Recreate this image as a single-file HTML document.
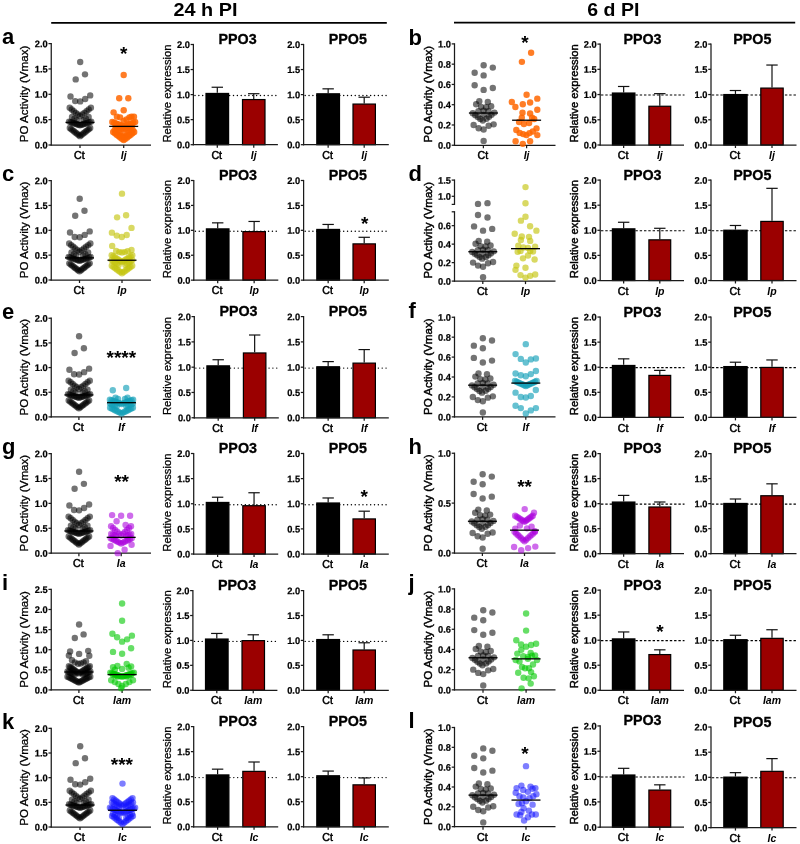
<!DOCTYPE html>
<html><head><meta charset="utf-8"><title>Figure</title>
<style>html,body{margin:0;padding:0;background:#fff;}body{width:800px;height:844px;overflow:hidden;font-family:"Liberation Sans",sans-serif;}svg{display:block;will-change:transform;}text{font-family:"Liberation Sans",sans-serif;fill:#000;}</style>
</head><body>
<svg width="800" height="844" viewBox="0 0 800 844">
<rect width="800" height="844" fill="#fff"/>
<line x1="51.20" y1="22.80" x2="386.80" y2="22.80" stroke="#000" stroke-width="1.8" />
<line x1="454.00" y1="22.55" x2="795.20" y2="22.55" stroke="#000" stroke-width="1.8" />
<text x="205.50" y="15.85" font-size="18" font-weight="bold" font-style="normal" text-anchor="middle" textLength="64" lengthAdjust="spacingAndGlyphs">24 h PI</text>
<text x="613.30" y="15.85" font-size="18" font-weight="bold" font-style="normal" text-anchor="middle" textLength="52" lengthAdjust="spacingAndGlyphs">6 d PI</text>
<text x="2.00" y="44.20" font-size="22" font-weight="bold" font-style="normal" text-anchor="start" >a</text>
<line x1="51.25" y1="42.98" x2="51.25" y2="145.62" stroke="#1a1a1a" stroke-width="1.25" />
<line x1="48.45" y1="145.00" x2="51.25" y2="145.00" stroke="#1a1a1a" stroke-width="1.25" />
<text transform="translate(47.75,148.54) rotate(0.03) scale(0.97,1.0)" font-size="9.6" font-weight="bold" font-style="normal" text-anchor="end" stroke="#000" stroke-width="0.22">0.0</text>
<line x1="48.45" y1="119.65" x2="51.25" y2="119.65" stroke="#1a1a1a" stroke-width="1.25" />
<text transform="translate(47.75,123.19) rotate(0.03) scale(0.97,1.0)" font-size="9.6" font-weight="bold" font-style="normal" text-anchor="end" stroke="#000" stroke-width="0.22">0.5</text>
<line x1="48.45" y1="94.30" x2="51.25" y2="94.30" stroke="#1a1a1a" stroke-width="1.25" />
<text transform="translate(47.75,97.84) rotate(0.03) scale(0.97,1.0)" font-size="9.6" font-weight="bold" font-style="normal" text-anchor="end" stroke="#000" stroke-width="0.22">1.0</text>
<line x1="48.45" y1="68.95" x2="51.25" y2="68.95" stroke="#1a1a1a" stroke-width="1.25" />
<text transform="translate(47.75,72.49) rotate(0.03) scale(0.97,1.0)" font-size="9.6" font-weight="bold" font-style="normal" text-anchor="end" stroke="#000" stroke-width="0.22">1.5</text>
<line x1="48.45" y1="43.60" x2="51.25" y2="43.60" stroke="#1a1a1a" stroke-width="1.25" />
<text transform="translate(47.75,47.14) rotate(0.03) scale(0.97,1.0)" font-size="9.6" font-weight="bold" font-style="normal" text-anchor="end" stroke="#000" stroke-width="0.22">2.0</text>
<line x1="50.62" y1="145.00" x2="151.00" y2="145.00" stroke="#1a1a1a" stroke-width="1.25" />
<line x1="80.00" y1="145.00" x2="80.00" y2="148.00" stroke="#1a1a1a" stroke-width="1.25" />
<text x="79.40" y="159.20" font-size="10.6" font-weight="normal" font-style="normal" text-anchor="middle" stroke="#000" stroke-width="0.5">Ct</text>
<line x1="123.70" y1="145.00" x2="123.70" y2="148.00" stroke="#1a1a1a" stroke-width="1.25" />
<text x="123.70" y="159.20" font-size="10.5" font-weight="bold" font-style="italic" text-anchor="middle" >Ij</text>
<text transform="translate(27.80,94.00) rotate(-90)" font-size="11.6" font-weight="normal" text-anchor="middle" stroke="#000" stroke-width="0.28">PO Activity (Vmax)</text>
<g fill="#000" fill-opacity="0.55">
<circle cx="80.20" cy="62.05" r="3.2"/>
<circle cx="85.00" cy="74.37" r="3.2"/>
<circle cx="75.70" cy="79.39" r="3.2"/>
<circle cx="70.50" cy="96.48" r="3.2"/>
<circle cx="75.20" cy="101.09" r="3.2"/>
<circle cx="80.20" cy="101.40" r="3.2"/>
<circle cx="85.20" cy="99.02" r="3.2"/>
<circle cx="90.20" cy="95.42" r="3.2"/>
<circle cx="80.00" cy="116.25" r="3.2"/>
<circle cx="77.94" cy="114.55" r="3.2"/>
<circle cx="82.18" cy="114.55" r="3.2"/>
<circle cx="75.88" cy="112.85" r="3.2"/>
<circle cx="84.36" cy="112.85" r="3.2"/>
<circle cx="73.82" cy="111.14" r="3.2"/>
<circle cx="86.54" cy="111.14" r="3.2"/>
<circle cx="71.76" cy="109.44" r="3.2"/>
<circle cx="88.72" cy="109.44" r="3.2"/>
<circle cx="69.70" cy="107.74" r="3.2"/>
<circle cx="90.90" cy="107.74" r="3.2"/>
<circle cx="72.00" cy="116.96" r="3.2"/>
<circle cx="88.60" cy="116.96" r="3.2"/>
<circle cx="74.40" cy="118.64" r="3.2"/>
<circle cx="85.90" cy="118.64" r="3.2"/>
<circle cx="76.70" cy="120.21" r="3.2"/>
<circle cx="83.50" cy="120.21" r="3.2"/>
<circle cx="80.00" cy="125.33" r="3.2"/>
<circle cx="78.44" cy="124.79" r="3.2"/>
<circle cx="81.60" cy="124.79" r="3.2"/>
<circle cx="76.89" cy="124.26" r="3.2"/>
<circle cx="83.20" cy="124.26" r="3.2"/>
<circle cx="75.33" cy="123.72" r="3.2"/>
<circle cx="84.80" cy="123.72" r="3.2"/>
<circle cx="73.77" cy="123.18" r="3.2"/>
<circle cx="86.40" cy="123.18" r="3.2"/>
<circle cx="72.21" cy="122.65" r="3.2"/>
<circle cx="88.00" cy="122.65" r="3.2"/>
<circle cx="70.66" cy="122.11" r="3.2"/>
<circle cx="89.60" cy="122.11" r="3.2"/>
<circle cx="69.10" cy="121.58" r="3.2"/>
<circle cx="91.20" cy="121.58" r="3.2"/>
<circle cx="80.00" cy="136.13" r="3.2"/>
<circle cx="78.54" cy="134.97" r="3.2"/>
<circle cx="81.46" cy="134.97" r="3.2"/>
<circle cx="77.09" cy="133.81" r="3.2"/>
<circle cx="82.91" cy="133.81" r="3.2"/>
<circle cx="75.63" cy="132.65" r="3.2"/>
<circle cx="84.37" cy="132.65" r="3.2"/>
<circle cx="74.17" cy="131.49" r="3.2"/>
<circle cx="85.83" cy="131.49" r="3.2"/>
<circle cx="72.71" cy="130.33" r="3.2"/>
<circle cx="87.29" cy="130.33" r="3.2"/>
<circle cx="71.26" cy="129.17" r="3.2"/>
<circle cx="88.74" cy="129.17" r="3.2"/>
<circle cx="69.80" cy="128.02" r="3.2"/>
<circle cx="90.20" cy="128.02" r="3.2"/>
</g>
<g fill="#ff6600" fill-opacity="0.85">
<circle cx="123.70" cy="75.03" r="3.2"/>
<circle cx="119.20" cy="98.20" r="3.2"/>
<circle cx="128.30" cy="98.20" r="3.2"/>
<circle cx="123.70" cy="110.22" r="3.2"/>
<circle cx="113.60" cy="112.35" r="3.2"/>
<circle cx="116.90" cy="116.66" r="3.2"/>
<circle cx="120.10" cy="117.37" r="3.2"/>
<circle cx="123.70" cy="120.87" r="3.2"/>
<circle cx="126.50" cy="119.45" r="3.2"/>
<circle cx="129.40" cy="117.37" r="3.2"/>
<circle cx="131.50" cy="116.66" r="3.2"/>
<circle cx="134.00" cy="116.66" r="3.2"/>
<circle cx="123.70" cy="126.49" r="3.2"/>
<circle cx="121.80" cy="125.74" r="3.2"/>
<circle cx="125.60" cy="125.74" r="3.2"/>
<circle cx="119.90" cy="124.99" r="3.2"/>
<circle cx="127.50" cy="124.99" r="3.2"/>
<circle cx="118.00" cy="124.24" r="3.2"/>
<circle cx="129.40" cy="124.24" r="3.2"/>
<circle cx="116.10" cy="123.49" r="3.2"/>
<circle cx="131.30" cy="123.49" r="3.2"/>
<circle cx="114.20" cy="122.73" r="3.2"/>
<circle cx="133.20" cy="122.73" r="3.2"/>
<circle cx="112.30" cy="121.98" r="3.2"/>
<circle cx="135.10" cy="121.98" r="3.2"/>
<circle cx="123.70" cy="129.79" r="3.2"/>
<circle cx="121.70" cy="128.84" r="3.2"/>
<circle cx="125.70" cy="128.84" r="3.2"/>
<circle cx="119.70" cy="127.89" r="3.2"/>
<circle cx="127.70" cy="127.89" r="3.2"/>
<circle cx="117.70" cy="126.94" r="3.2"/>
<circle cx="129.70" cy="126.94" r="3.2"/>
<circle cx="115.70" cy="125.99" r="3.2"/>
<circle cx="131.70" cy="125.99" r="3.2"/>
<circle cx="123.70" cy="137.29" r="3.2"/>
<circle cx="121.90" cy="135.83" r="3.2"/>
<circle cx="125.50" cy="135.83" r="3.2"/>
<circle cx="120.10" cy="134.37" r="3.2"/>
<circle cx="127.30" cy="134.37" r="3.2"/>
<circle cx="118.30" cy="132.91" r="3.2"/>
<circle cx="129.10" cy="132.91" r="3.2"/>
<circle cx="116.50" cy="131.45" r="3.2"/>
<circle cx="130.90" cy="131.45" r="3.2"/>
<circle cx="114.70" cy="129.99" r="3.2"/>
<circle cx="132.70" cy="129.99" r="3.2"/>
<circle cx="123.70" cy="140.08" r="3.2"/>
<circle cx="121.95" cy="138.74" r="3.2"/>
<circle cx="125.45" cy="138.74" r="3.2"/>
<circle cx="120.20" cy="137.40" r="3.2"/>
<circle cx="127.20" cy="137.40" r="3.2"/>
<circle cx="118.45" cy="136.05" r="3.2"/>
<circle cx="128.95" cy="136.05" r="3.2"/>
<circle cx="116.70" cy="134.71" r="3.2"/>
<circle cx="130.70" cy="134.71" r="3.2"/>
<circle cx="114.95" cy="133.36" r="3.2"/>
<circle cx="132.45" cy="133.36" r="3.2"/>
<circle cx="113.20" cy="132.02" r="3.2"/>
<circle cx="134.20" cy="132.02" r="3.2"/>
</g>
<line x1="65.50" y1="122.44" x2="94.50" y2="122.44" stroke="#000" stroke-width="1.3" />
<line x1="109.20" y1="126.39" x2="138.20" y2="126.39" stroke="#000" stroke-width="1.3" />
<text x="123.70" y="59.84" font-size="19" font-weight="bold" font-style="normal" text-anchor="middle" letter-spacing="0">*</text>
<line x1="193.40" y1="43.88" x2="193.40" y2="145.32" stroke="#1a1a1a" stroke-width="1.25" />
<line x1="190.60" y1="144.70" x2="193.40" y2="144.70" stroke="#1a1a1a" stroke-width="1.25" />
<text transform="translate(189.90,148.24) rotate(0.03) scale(0.97,1.0)" font-size="9.6" font-weight="bold" font-style="normal" text-anchor="end" stroke="#000" stroke-width="0.22">0.0</text>
<line x1="190.60" y1="119.65" x2="193.40" y2="119.65" stroke="#1a1a1a" stroke-width="1.25" />
<text transform="translate(189.90,123.19) rotate(0.03) scale(0.97,1.0)" font-size="9.6" font-weight="bold" font-style="normal" text-anchor="end" stroke="#000" stroke-width="0.22">0.5</text>
<line x1="190.60" y1="94.60" x2="193.40" y2="94.60" stroke="#1a1a1a" stroke-width="1.25" />
<text transform="translate(189.90,98.14) rotate(0.03) scale(0.97,1.0)" font-size="9.6" font-weight="bold" font-style="normal" text-anchor="end" stroke="#000" stroke-width="0.22">1.0</text>
<line x1="190.60" y1="69.55" x2="193.40" y2="69.55" stroke="#1a1a1a" stroke-width="1.25" />
<text transform="translate(189.90,73.09) rotate(0.03) scale(0.97,1.0)" font-size="9.6" font-weight="bold" font-style="normal" text-anchor="end" stroke="#000" stroke-width="0.22">1.5</text>
<line x1="190.60" y1="44.50" x2="193.40" y2="44.50" stroke="#1a1a1a" stroke-width="1.25" />
<text transform="translate(189.90,48.04) rotate(0.03) scale(0.97,1.0)" font-size="9.6" font-weight="bold" font-style="normal" text-anchor="end" stroke="#000" stroke-width="0.22">2.0</text>
<line x1="195.00" y1="95.55" x2="278.40" y2="95.55" stroke="#000" stroke-width="1.45" stroke-linecap="round" stroke-dasharray="0.01 3.84"/>
<line x1="217.30" y1="87.24" x2="217.30" y2="92.85" stroke="#111" stroke-width="1.2" />
<line x1="211.60" y1="87.24" x2="223.00" y2="87.24" stroke="#111" stroke-width="1.2" />
<rect x="206.00" y="93.45" width="22.60" height="51.25" fill="#000" stroke="#000" stroke-width="1.2"/>
<line x1="253.75" y1="93.70" x2="253.75" y2="98.96" stroke="#111" stroke-width="1.2" />
<line x1="248.05" y1="93.70" x2="259.45" y2="93.70" stroke="#111" stroke-width="1.2" />
<rect x="242.50" y="99.56" width="22.50" height="45.14" fill="#9b0000" stroke="#000" stroke-width="1.2"/>
<line x1="192.78" y1="144.70" x2="277.90" y2="144.70" stroke="#1a1a1a" stroke-width="1.25" />
<line x1="217.30" y1="144.70" x2="217.30" y2="147.70" stroke="#1a1a1a" stroke-width="1.25" />
<text x="216.70" y="158.90" font-size="10.6" font-weight="normal" font-style="normal" text-anchor="middle" stroke="#000" stroke-width="0.5">Ct</text>
<line x1="253.75" y1="144.70" x2="253.75" y2="147.70" stroke="#1a1a1a" stroke-width="1.25" />
<text x="253.75" y="158.90" font-size="10.5" font-weight="bold" font-style="italic" text-anchor="middle" >Ij</text>
<text x="237.60" y="44.00" font-size="14.3" font-weight="bold" font-style="normal" text-anchor="middle" stroke="#000" stroke-width="0.3">PPO3</text>
<text transform="translate(171.40,93.45) rotate(-90)" font-size="11.25" font-weight="normal" text-anchor="middle" stroke="#000" stroke-width="0.28">Relative expression</text>
<line x1="303.60" y1="43.88" x2="303.60" y2="145.32" stroke="#1a1a1a" stroke-width="1.25" />
<line x1="300.80" y1="144.70" x2="303.60" y2="144.70" stroke="#1a1a1a" stroke-width="1.25" />
<text transform="translate(300.10,148.24) rotate(0.03) scale(0.97,1.0)" font-size="9.6" font-weight="bold" font-style="normal" text-anchor="end" stroke="#000" stroke-width="0.22">0.0</text>
<line x1="300.80" y1="119.65" x2="303.60" y2="119.65" stroke="#1a1a1a" stroke-width="1.25" />
<text transform="translate(300.10,123.19) rotate(0.03) scale(0.97,1.0)" font-size="9.6" font-weight="bold" font-style="normal" text-anchor="end" stroke="#000" stroke-width="0.22">0.5</text>
<line x1="300.80" y1="94.60" x2="303.60" y2="94.60" stroke="#1a1a1a" stroke-width="1.25" />
<text transform="translate(300.10,98.14) rotate(0.03) scale(0.97,1.0)" font-size="9.6" font-weight="bold" font-style="normal" text-anchor="end" stroke="#000" stroke-width="0.22">1.0</text>
<line x1="300.80" y1="69.55" x2="303.60" y2="69.55" stroke="#1a1a1a" stroke-width="1.25" />
<text transform="translate(300.10,73.09) rotate(0.03) scale(0.97,1.0)" font-size="9.6" font-weight="bold" font-style="normal" text-anchor="end" stroke="#000" stroke-width="0.22">1.5</text>
<line x1="300.80" y1="44.50" x2="303.60" y2="44.50" stroke="#1a1a1a" stroke-width="1.25" />
<text transform="translate(300.10,48.04) rotate(0.03) scale(0.97,1.0)" font-size="9.6" font-weight="bold" font-style="normal" text-anchor="end" stroke="#000" stroke-width="0.22">2.0</text>
<line x1="305.20" y1="95.55" x2="389.30" y2="95.55" stroke="#000" stroke-width="1.45" stroke-linecap="round" stroke-dasharray="0.01 3.84"/>
<line x1="328.15" y1="88.84" x2="328.15" y2="93.20" stroke="#111" stroke-width="1.2" />
<line x1="322.45" y1="88.84" x2="333.85" y2="88.84" stroke="#111" stroke-width="1.2" />
<rect x="316.80" y="93.80" width="22.70" height="50.90" fill="#000" stroke="#000" stroke-width="1.2"/>
<line x1="364.20" y1="97.21" x2="364.20" y2="103.47" stroke="#111" stroke-width="1.2" />
<line x1="358.50" y1="97.21" x2="369.90" y2="97.21" stroke="#111" stroke-width="1.2" />
<rect x="353.00" y="104.07" width="22.40" height="40.63" fill="#9b0000" stroke="#000" stroke-width="1.2"/>
<line x1="302.98" y1="144.70" x2="388.80" y2="144.70" stroke="#1a1a1a" stroke-width="1.25" />
<line x1="328.15" y1="144.70" x2="328.15" y2="147.70" stroke="#1a1a1a" stroke-width="1.25" />
<text x="327.55" y="158.90" font-size="10.6" font-weight="normal" font-style="normal" text-anchor="middle" stroke="#000" stroke-width="0.5">Ct</text>
<line x1="364.20" y1="144.70" x2="364.20" y2="147.70" stroke="#1a1a1a" stroke-width="1.25" />
<text x="364.20" y="158.90" font-size="10.5" font-weight="bold" font-style="italic" text-anchor="middle" >Ij</text>
<text x="347.80" y="44.00" font-size="14.3" font-weight="bold" font-style="normal" text-anchor="middle" stroke="#000" stroke-width="0.3">PPO5</text>
<text x="408.50" y="44.50" font-size="22" font-weight="bold" font-style="normal" text-anchor="start" >b</text>
<line x1="454.50" y1="43.27" x2="454.50" y2="145.88" stroke="#1a1a1a" stroke-width="1.25" />
<line x1="451.70" y1="145.25" x2="454.50" y2="145.25" stroke="#1a1a1a" stroke-width="1.25" />
<text transform="translate(451.00,148.79) rotate(0.03) scale(0.97,1.0)" font-size="9.6" font-weight="bold" font-style="normal" text-anchor="end" stroke="#000" stroke-width="0.22">0.0</text>
<line x1="451.70" y1="124.98" x2="454.50" y2="124.98" stroke="#1a1a1a" stroke-width="1.25" />
<text transform="translate(451.00,128.52) rotate(0.03) scale(0.97,1.0)" font-size="9.6" font-weight="bold" font-style="normal" text-anchor="end" stroke="#000" stroke-width="0.22">0.2</text>
<line x1="451.70" y1="104.71" x2="454.50" y2="104.71" stroke="#1a1a1a" stroke-width="1.25" />
<text transform="translate(451.00,108.25) rotate(0.03) scale(0.97,1.0)" font-size="9.6" font-weight="bold" font-style="normal" text-anchor="end" stroke="#000" stroke-width="0.22">0.4</text>
<line x1="451.70" y1="84.44" x2="454.50" y2="84.44" stroke="#1a1a1a" stroke-width="1.25" />
<text transform="translate(451.00,87.98) rotate(0.03) scale(0.97,1.0)" font-size="9.6" font-weight="bold" font-style="normal" text-anchor="end" stroke="#000" stroke-width="0.22">0.6</text>
<line x1="451.70" y1="64.17" x2="454.50" y2="64.17" stroke="#1a1a1a" stroke-width="1.25" />
<text transform="translate(451.00,67.71) rotate(0.03) scale(0.97,1.0)" font-size="9.6" font-weight="bold" font-style="normal" text-anchor="end" stroke="#000" stroke-width="0.22">0.8</text>
<line x1="451.70" y1="43.90" x2="454.50" y2="43.90" stroke="#1a1a1a" stroke-width="1.25" />
<text transform="translate(451.00,47.44) rotate(0.03) scale(0.97,1.0)" font-size="9.6" font-weight="bold" font-style="normal" text-anchor="end" stroke="#000" stroke-width="0.22">1.0</text>
<line x1="453.88" y1="145.25" x2="555.50" y2="145.25" stroke="#1a1a1a" stroke-width="1.25" />
<line x1="483.40" y1="145.25" x2="483.40" y2="148.25" stroke="#1a1a1a" stroke-width="1.25" />
<text x="482.80" y="159.45" font-size="10.6" font-weight="normal" font-style="normal" text-anchor="middle" stroke="#000" stroke-width="0.5">Ct</text>
<line x1="526.60" y1="145.25" x2="526.60" y2="148.25" stroke="#1a1a1a" stroke-width="1.25" />
<text x="526.60" y="159.45" font-size="10.5" font-weight="bold" font-style="italic" text-anchor="middle" >Ij</text>
<text transform="translate(432.00,94.28) rotate(-90)" font-size="11.6" font-weight="normal" text-anchor="middle" stroke="#000" stroke-width="0.45">PO Activity (Vmax)</text>
<g fill="#000" fill-opacity="0.55">
<circle cx="483.65" cy="65.28" r="3.2"/>
<circle cx="492.80" cy="67.62" r="3.2"/>
<circle cx="474.65" cy="72.78" r="3.2"/>
<circle cx="483.65" cy="75.42" r="3.2"/>
<circle cx="474.65" cy="85.25" r="3.2"/>
<circle cx="492.80" cy="87.99" r="3.2"/>
<circle cx="483.65" cy="89.91" r="3.2"/>
<circle cx="479.30" cy="101.16" r="3.2"/>
<circle cx="487.80" cy="101.97" r="3.2"/>
<circle cx="476.15" cy="104.30" r="3.2"/>
<circle cx="491.15" cy="106.23" r="3.2"/>
<circle cx="481.15" cy="106.84" r="3.2"/>
<circle cx="486.15" cy="107.24" r="3.2"/>
<circle cx="472.80" cy="113.22" r="3.2"/>
<circle cx="494.40" cy="112.62" r="3.2"/>
<circle cx="475.30" cy="115.15" r="3.2"/>
<circle cx="491.50" cy="114.84" r="3.2"/>
<circle cx="477.80" cy="116.97" r="3.2"/>
<circle cx="489.00" cy="116.77" r="3.2"/>
<circle cx="480.30" cy="118.90" r="3.2"/>
<circle cx="486.50" cy="118.70" r="3.2"/>
<circle cx="482.80" cy="120.62" r="3.2"/>
<circle cx="478.40" cy="111.30" r="3.2"/>
<circle cx="483.60" cy="110.79" r="3.2"/>
<circle cx="488.40" cy="111.30" r="3.2"/>
<circle cx="483.50" cy="114.84" r="3.2"/>
<circle cx="473.65" cy="124.98" r="3.2"/>
<circle cx="493.65" cy="124.37" r="3.2"/>
<circle cx="488.65" cy="125.69" r="3.2"/>
<circle cx="478.65" cy="128.22" r="3.2"/>
<circle cx="483.65" cy="129.44" r="3.2"/>
<circle cx="483.65" cy="140.89" r="3.2"/>
</g>
<g fill="#ff6600" fill-opacity="0.85">
<circle cx="531.10" cy="52.82" r="3.2"/>
<circle cx="521.90" cy="61.84" r="3.2"/>
<circle cx="526.60" cy="94.68" r="3.2"/>
<circle cx="537.30" cy="98.63" r="3.2"/>
<circle cx="511.80" cy="102.07" r="3.2"/>
<circle cx="530.10" cy="102.48" r="3.2"/>
<circle cx="522.80" cy="104.30" r="3.2"/>
<circle cx="515.40" cy="106.94" r="3.2"/>
<circle cx="537.30" cy="109.78" r="3.2"/>
<circle cx="522.50" cy="112.82" r="3.2"/>
<circle cx="530.10" cy="113.53" r="3.2"/>
<circle cx="521.80" cy="117.68" r="3.2"/>
<circle cx="532.10" cy="117.68" r="3.2"/>
<circle cx="534.20" cy="119.00" r="3.2"/>
<circle cx="519.10" cy="121.94" r="3.2"/>
<circle cx="523.90" cy="123.97" r="3.2"/>
<circle cx="529.10" cy="122.95" r="3.2"/>
<circle cx="536.50" cy="128.43" r="3.2"/>
<circle cx="516.30" cy="130.05" r="3.2"/>
<circle cx="532.80" cy="131.47" r="3.2"/>
<circle cx="519.70" cy="132.89" r="3.2"/>
<circle cx="529.40" cy="133.09" r="3.2"/>
<circle cx="523.20" cy="134.10" r="3.2"/>
<circle cx="526.40" cy="135.12" r="3.2"/>
<circle cx="537.30" cy="135.12" r="3.2"/>
<circle cx="515.60" cy="141.20" r="3.2"/>
<circle cx="530.10" cy="141.20" r="3.2"/>
<circle cx="522.80" cy="143.83" r="3.2"/>
</g>
<line x1="468.90" y1="113.02" x2="497.90" y2="113.02" stroke="#000" stroke-width="1.3" />
<line x1="512.10" y1="120.22" x2="541.10" y2="120.22" stroke="#000" stroke-width="1.3" />
<text x="525.00" y="49.24" font-size="19" font-weight="bold" font-style="normal" text-anchor="middle" letter-spacing="0">*</text>
<line x1="600.20" y1="43.48" x2="600.20" y2="145.62" stroke="#1a1a1a" stroke-width="1.25" />
<line x1="597.40" y1="145.00" x2="600.20" y2="145.00" stroke="#1a1a1a" stroke-width="1.25" />
<text transform="translate(596.70,148.54) rotate(0.03) scale(0.97,1.0)" font-size="9.6" font-weight="bold" font-style="normal" text-anchor="end" stroke="#000" stroke-width="0.22">0.0</text>
<line x1="597.40" y1="119.78" x2="600.20" y2="119.78" stroke="#1a1a1a" stroke-width="1.25" />
<text transform="translate(596.70,123.31) rotate(0.03) scale(0.97,1.0)" font-size="9.6" font-weight="bold" font-style="normal" text-anchor="end" stroke="#000" stroke-width="0.22">0.5</text>
<line x1="597.40" y1="94.55" x2="600.20" y2="94.55" stroke="#1a1a1a" stroke-width="1.25" />
<text transform="translate(596.70,98.09) rotate(0.03) scale(0.97,1.0)" font-size="9.6" font-weight="bold" font-style="normal" text-anchor="end" stroke="#000" stroke-width="0.22">1.0</text>
<line x1="597.40" y1="69.32" x2="600.20" y2="69.32" stroke="#1a1a1a" stroke-width="1.25" />
<text transform="translate(596.70,72.86) rotate(0.03) scale(0.97,1.0)" font-size="9.6" font-weight="bold" font-style="normal" text-anchor="end" stroke="#000" stroke-width="0.22">1.5</text>
<line x1="597.40" y1="44.10" x2="600.20" y2="44.10" stroke="#1a1a1a" stroke-width="1.25" />
<text transform="translate(596.70,47.64) rotate(0.03) scale(0.97,1.0)" font-size="9.6" font-weight="bold" font-style="normal" text-anchor="end" stroke="#000" stroke-width="0.22">2.0</text>
<line x1="601.00" y1="95.00" x2="684.50" y2="95.00" stroke="#000" stroke-width="1.15" stroke-dasharray="2.4 1.9"/>
<line x1="623.65" y1="86.48" x2="623.65" y2="92.43" stroke="#111" stroke-width="1.2" />
<line x1="617.95" y1="86.48" x2="629.35" y2="86.48" stroke="#111" stroke-width="1.2" />
<rect x="612.40" y="93.03" width="22.50" height="51.97" fill="#000" stroke="#000" stroke-width="1.2"/>
<line x1="659.80" y1="93.64" x2="659.80" y2="105.65" stroke="#111" stroke-width="1.2" />
<line x1="654.10" y1="93.64" x2="665.50" y2="93.64" stroke="#111" stroke-width="1.2" />
<rect x="648.90" y="106.25" width="21.80" height="38.75" fill="#9b0000" stroke="#000" stroke-width="1.2"/>
<line x1="599.58" y1="145.00" x2="684.00" y2="145.00" stroke="#1a1a1a" stroke-width="1.25" />
<line x1="623.65" y1="145.00" x2="623.65" y2="148.00" stroke="#1a1a1a" stroke-width="1.25" />
<text x="623.05" y="159.20" font-size="10.6" font-weight="normal" font-style="normal" text-anchor="middle" stroke="#000" stroke-width="0.5">Ct</text>
<line x1="659.80" y1="145.00" x2="659.80" y2="148.00" stroke="#1a1a1a" stroke-width="1.25" />
<text x="659.80" y="159.20" font-size="10.5" font-weight="bold" font-style="italic" text-anchor="middle" >Ij</text>
<text x="642.50" y="43.60" font-size="14.3" font-weight="bold" font-style="normal" text-anchor="middle" stroke="#000" stroke-width="0.3">PPO3</text>
<text transform="translate(578.00,93.40) rotate(-90)" font-size="11.25" font-weight="normal" text-anchor="middle" stroke="#000" stroke-width="0.45">Relative expression</text>
<line x1="711.00" y1="43.48" x2="711.00" y2="145.62" stroke="#1a1a1a" stroke-width="1.25" />
<line x1="708.20" y1="145.00" x2="711.00" y2="145.00" stroke="#1a1a1a" stroke-width="1.25" />
<text transform="translate(707.50,148.54) rotate(0.03) scale(0.97,1.0)" font-size="9.6" font-weight="bold" font-style="normal" text-anchor="end" stroke="#000" stroke-width="0.22">0.0</text>
<line x1="708.20" y1="119.78" x2="711.00" y2="119.78" stroke="#1a1a1a" stroke-width="1.25" />
<text transform="translate(707.50,123.31) rotate(0.03) scale(0.97,1.0)" font-size="9.6" font-weight="bold" font-style="normal" text-anchor="end" stroke="#000" stroke-width="0.22">0.5</text>
<line x1="708.20" y1="94.55" x2="711.00" y2="94.55" stroke="#1a1a1a" stroke-width="1.25" />
<text transform="translate(707.50,98.09) rotate(0.03) scale(0.97,1.0)" font-size="9.6" font-weight="bold" font-style="normal" text-anchor="end" stroke="#000" stroke-width="0.22">1.0</text>
<line x1="708.20" y1="69.32" x2="711.00" y2="69.32" stroke="#1a1a1a" stroke-width="1.25" />
<text transform="translate(707.50,72.86) rotate(0.03) scale(0.97,1.0)" font-size="9.6" font-weight="bold" font-style="normal" text-anchor="end" stroke="#000" stroke-width="0.22">1.5</text>
<line x1="708.20" y1="44.10" x2="711.00" y2="44.10" stroke="#1a1a1a" stroke-width="1.25" />
<text transform="translate(707.50,47.64) rotate(0.03) scale(0.97,1.0)" font-size="9.6" font-weight="bold" font-style="normal" text-anchor="end" stroke="#000" stroke-width="0.22">2.0</text>
<line x1="711.80" y1="95.00" x2="797.00" y2="95.00" stroke="#000" stroke-width="1.15" stroke-dasharray="2.4 1.9"/>
<line x1="735.45" y1="90.51" x2="735.45" y2="93.94" stroke="#111" stroke-width="1.2" />
<line x1="729.75" y1="90.51" x2="741.15" y2="90.51" stroke="#111" stroke-width="1.2" />
<rect x="723.80" y="94.54" width="23.30" height="50.46" fill="#000" stroke="#000" stroke-width="1.2"/>
<line x1="772.00" y1="65.04" x2="772.00" y2="87.49" stroke="#111" stroke-width="1.2" />
<line x1="766.30" y1="65.04" x2="777.70" y2="65.04" stroke="#111" stroke-width="1.2" />
<rect x="760.80" y="88.09" width="22.40" height="56.91" fill="#9b0000" stroke="#000" stroke-width="1.2"/>
<line x1="710.38" y1="145.00" x2="796.50" y2="145.00" stroke="#1a1a1a" stroke-width="1.25" />
<line x1="735.45" y1="145.00" x2="735.45" y2="148.00" stroke="#1a1a1a" stroke-width="1.25" />
<text x="734.85" y="159.20" font-size="10.6" font-weight="normal" font-style="normal" text-anchor="middle" stroke="#000" stroke-width="0.5">Ct</text>
<line x1="772.00" y1="145.00" x2="772.00" y2="148.00" stroke="#1a1a1a" stroke-width="1.25" />
<text x="772.00" y="159.20" font-size="10.5" font-weight="bold" font-style="italic" text-anchor="middle" >Ij</text>
<text x="752.30" y="43.60" font-size="14.3" font-weight="bold" font-style="normal" text-anchor="middle" stroke="#000" stroke-width="0.3">PPO5</text>
<text x="2.00" y="181.20" font-size="22" font-weight="bold" font-style="normal" text-anchor="start" >c</text>
<line x1="51.25" y1="179.97" x2="51.25" y2="280.62" stroke="#1a1a1a" stroke-width="1.25" />
<line x1="48.45" y1="280.00" x2="51.25" y2="280.00" stroke="#1a1a1a" stroke-width="1.25" />
<text transform="translate(47.75,283.54) rotate(0.03) scale(0.97,1.0)" font-size="9.6" font-weight="bold" font-style="normal" text-anchor="end" stroke="#000" stroke-width="0.22">0.0</text>
<line x1="48.45" y1="255.15" x2="51.25" y2="255.15" stroke="#1a1a1a" stroke-width="1.25" />
<text transform="translate(47.75,258.69) rotate(0.03) scale(0.97,1.0)" font-size="9.6" font-weight="bold" font-style="normal" text-anchor="end" stroke="#000" stroke-width="0.22">0.5</text>
<line x1="48.45" y1="230.30" x2="51.25" y2="230.30" stroke="#1a1a1a" stroke-width="1.25" />
<text transform="translate(47.75,233.84) rotate(0.03) scale(0.97,1.0)" font-size="9.6" font-weight="bold" font-style="normal" text-anchor="end" stroke="#000" stroke-width="0.22">1.0</text>
<line x1="48.45" y1="205.45" x2="51.25" y2="205.45" stroke="#1a1a1a" stroke-width="1.25" />
<text transform="translate(47.75,208.99) rotate(0.03) scale(0.97,1.0)" font-size="9.6" font-weight="bold" font-style="normal" text-anchor="end" stroke="#000" stroke-width="0.22">1.5</text>
<line x1="48.45" y1="180.60" x2="51.25" y2="180.60" stroke="#1a1a1a" stroke-width="1.25" />
<text transform="translate(47.75,184.14) rotate(0.03) scale(0.97,1.0)" font-size="9.6" font-weight="bold" font-style="normal" text-anchor="end" stroke="#000" stroke-width="0.22">2.0</text>
<line x1="50.62" y1="280.00" x2="151.00" y2="280.00" stroke="#1a1a1a" stroke-width="1.25" />
<line x1="79.50" y1="280.00" x2="79.50" y2="283.00" stroke="#1a1a1a" stroke-width="1.25" />
<text x="78.90" y="294.20" font-size="10.6" font-weight="normal" font-style="normal" text-anchor="middle" stroke="#000" stroke-width="0.5">Ct</text>
<line x1="122.00" y1="280.00" x2="122.00" y2="283.00" stroke="#1a1a1a" stroke-width="1.25" />
<text x="122.00" y="294.20" font-size="10.5" font-weight="bold" font-style="italic" text-anchor="middle" >Ip</text>
<text transform="translate(27.80,230.00) rotate(-90)" font-size="11.6" font-weight="normal" text-anchor="middle" stroke="#000" stroke-width="0.28">PO Activity (Vmax)</text>
<g fill="#000" fill-opacity="0.55">
<circle cx="79.70" cy="198.69" r="3.2"/>
<circle cx="84.50" cy="210.77" r="3.2"/>
<circle cx="75.20" cy="215.69" r="3.2"/>
<circle cx="70.00" cy="232.44" r="3.2"/>
<circle cx="74.70" cy="236.96" r="3.2"/>
<circle cx="79.70" cy="237.26" r="3.2"/>
<circle cx="84.70" cy="234.92" r="3.2"/>
<circle cx="89.70" cy="231.39" r="3.2"/>
<circle cx="79.50" cy="251.82" r="3.2"/>
<circle cx="77.44" cy="250.15" r="3.2"/>
<circle cx="81.68" cy="250.15" r="3.2"/>
<circle cx="75.38" cy="248.48" r="3.2"/>
<circle cx="83.86" cy="248.48" r="3.2"/>
<circle cx="73.32" cy="246.81" r="3.2"/>
<circle cx="86.04" cy="246.81" r="3.2"/>
<circle cx="71.26" cy="245.14" r="3.2"/>
<circle cx="88.22" cy="245.14" r="3.2"/>
<circle cx="69.20" cy="243.47" r="3.2"/>
<circle cx="90.40" cy="243.47" r="3.2"/>
<circle cx="71.50" cy="252.52" r="3.2"/>
<circle cx="88.10" cy="252.52" r="3.2"/>
<circle cx="73.90" cy="254.16" r="3.2"/>
<circle cx="85.40" cy="254.16" r="3.2"/>
<circle cx="76.20" cy="255.70" r="3.2"/>
<circle cx="83.00" cy="255.70" r="3.2"/>
<circle cx="79.50" cy="260.72" r="3.2"/>
<circle cx="77.94" cy="260.19" r="3.2"/>
<circle cx="81.10" cy="260.19" r="3.2"/>
<circle cx="76.39" cy="259.67" r="3.2"/>
<circle cx="82.70" cy="259.67" r="3.2"/>
<circle cx="74.83" cy="259.14" r="3.2"/>
<circle cx="84.30" cy="259.14" r="3.2"/>
<circle cx="73.27" cy="258.61" r="3.2"/>
<circle cx="85.90" cy="258.61" r="3.2"/>
<circle cx="71.71" cy="258.09" r="3.2"/>
<circle cx="87.50" cy="258.09" r="3.2"/>
<circle cx="70.16" cy="257.56" r="3.2"/>
<circle cx="89.10" cy="257.56" r="3.2"/>
<circle cx="68.60" cy="257.04" r="3.2"/>
<circle cx="90.70" cy="257.04" r="3.2"/>
<circle cx="79.50" cy="271.30" r="3.2"/>
<circle cx="78.04" cy="270.17" r="3.2"/>
<circle cx="80.96" cy="270.17" r="3.2"/>
<circle cx="76.59" cy="269.03" r="3.2"/>
<circle cx="82.41" cy="269.03" r="3.2"/>
<circle cx="75.13" cy="267.89" r="3.2"/>
<circle cx="83.87" cy="267.89" r="3.2"/>
<circle cx="73.67" cy="266.76" r="3.2"/>
<circle cx="85.33" cy="266.76" r="3.2"/>
<circle cx="72.21" cy="265.62" r="3.2"/>
<circle cx="86.79" cy="265.62" r="3.2"/>
<circle cx="70.76" cy="264.49" r="3.2"/>
<circle cx="88.24" cy="264.49" r="3.2"/>
<circle cx="69.30" cy="263.35" r="3.2"/>
<circle cx="89.70" cy="263.35" r="3.2"/>
</g>
<g fill="#c4c410" fill-opacity="0.65">
<circle cx="122.00" cy="193.67" r="3.2"/>
<circle cx="126.10" cy="215.19" r="3.2"/>
<circle cx="117.10" cy="217.33" r="3.2"/>
<circle cx="131.50" cy="227.91" r="3.2"/>
<circle cx="111.90" cy="232.64" r="3.2"/>
<circle cx="116.80" cy="235.62" r="3.2"/>
<circle cx="121.80" cy="236.96" r="3.2"/>
<circle cx="126.70" cy="234.97" r="3.2"/>
<circle cx="112.20" cy="245.91" r="3.2"/>
<circle cx="116.20" cy="250.93" r="3.2"/>
<circle cx="119.30" cy="252.12" r="3.2"/>
<circle cx="122.00" cy="252.52" r="3.2"/>
<circle cx="124.90" cy="252.12" r="3.2"/>
<circle cx="127.60" cy="251.12" r="3.2"/>
<circle cx="131.50" cy="249.88" r="3.2"/>
<circle cx="122.00" cy="262.11" r="3.2"/>
<circle cx="120.28" cy="260.95" r="3.2"/>
<circle cx="123.72" cy="260.95" r="3.2"/>
<circle cx="118.57" cy="259.79" r="3.2"/>
<circle cx="125.43" cy="259.79" r="3.2"/>
<circle cx="116.85" cy="258.63" r="3.2"/>
<circle cx="127.15" cy="258.63" r="3.2"/>
<circle cx="115.13" cy="257.47" r="3.2"/>
<circle cx="128.87" cy="257.47" r="3.2"/>
<circle cx="113.42" cy="256.31" r="3.2"/>
<circle cx="130.58" cy="256.31" r="3.2"/>
<circle cx="111.70" cy="255.15" r="3.2"/>
<circle cx="132.30" cy="255.15" r="3.2"/>
<circle cx="118.57" cy="264.92" r="3.2"/>
<circle cx="125.43" cy="264.92" r="3.2"/>
<circle cx="116.85" cy="263.72" r="3.2"/>
<circle cx="127.15" cy="263.72" r="3.2"/>
<circle cx="115.13" cy="262.52" r="3.2"/>
<circle cx="128.87" cy="262.52" r="3.2"/>
<circle cx="113.42" cy="261.32" r="3.2"/>
<circle cx="130.58" cy="261.32" r="3.2"/>
<circle cx="111.70" cy="260.12" r="3.2"/>
<circle cx="132.30" cy="260.12" r="3.2"/>
<circle cx="122.00" cy="273.29" r="3.2"/>
<circle cx="120.30" cy="272.04" r="3.2"/>
<circle cx="123.70" cy="272.04" r="3.2"/>
<circle cx="118.60" cy="270.79" r="3.2"/>
<circle cx="125.40" cy="270.79" r="3.2"/>
<circle cx="116.90" cy="269.54" r="3.2"/>
<circle cx="127.10" cy="269.54" r="3.2"/>
<circle cx="115.20" cy="268.29" r="3.2"/>
<circle cx="128.80" cy="268.29" r="3.2"/>
<circle cx="113.50" cy="267.04" r="3.2"/>
<circle cx="130.50" cy="267.04" r="3.2"/>
<circle cx="111.80" cy="265.79" r="3.2"/>
<circle cx="132.20" cy="265.79" r="3.2"/>
</g>
<line x1="65.00" y1="257.88" x2="94.00" y2="257.88" stroke="#000" stroke-width="1.3" />
<line x1="107.50" y1="260.22" x2="136.50" y2="260.22" stroke="#000" stroke-width="1.3" />
<line x1="193.80" y1="179.88" x2="193.80" y2="280.77" stroke="#1a1a1a" stroke-width="1.25" />
<line x1="191.00" y1="280.15" x2="193.80" y2="280.15" stroke="#1a1a1a" stroke-width="1.25" />
<text transform="translate(190.30,283.69) rotate(0.03) scale(0.97,1.0)" font-size="9.6" font-weight="bold" font-style="normal" text-anchor="end" stroke="#000" stroke-width="0.22">0.0</text>
<line x1="191.00" y1="255.24" x2="193.80" y2="255.24" stroke="#1a1a1a" stroke-width="1.25" />
<text transform="translate(190.30,258.77) rotate(0.03) scale(0.97,1.0)" font-size="9.6" font-weight="bold" font-style="normal" text-anchor="end" stroke="#000" stroke-width="0.22">0.5</text>
<line x1="191.00" y1="230.32" x2="193.80" y2="230.32" stroke="#1a1a1a" stroke-width="1.25" />
<text transform="translate(190.30,233.86) rotate(0.03) scale(0.97,1.0)" font-size="9.6" font-weight="bold" font-style="normal" text-anchor="end" stroke="#000" stroke-width="0.22">1.0</text>
<line x1="191.00" y1="205.41" x2="193.80" y2="205.41" stroke="#1a1a1a" stroke-width="1.25" />
<text transform="translate(190.30,208.95) rotate(0.03) scale(0.97,1.0)" font-size="9.6" font-weight="bold" font-style="normal" text-anchor="end" stroke="#000" stroke-width="0.22">1.5</text>
<line x1="191.00" y1="180.50" x2="193.80" y2="180.50" stroke="#1a1a1a" stroke-width="1.25" />
<text transform="translate(190.30,184.04) rotate(0.03) scale(0.97,1.0)" font-size="9.6" font-weight="bold" font-style="normal" text-anchor="end" stroke="#000" stroke-width="0.22">2.0</text>
<line x1="195.40" y1="231.27" x2="278.80" y2="231.27" stroke="#000" stroke-width="1.45" stroke-linecap="round" stroke-dasharray="0.01 3.84"/>
<line x1="217.70" y1="222.85" x2="217.70" y2="228.28" stroke="#111" stroke-width="1.2" />
<line x1="212.00" y1="222.85" x2="223.40" y2="222.85" stroke="#111" stroke-width="1.2" />
<rect x="206.40" y="228.88" width="22.60" height="51.27" fill="#000" stroke="#000" stroke-width="1.2"/>
<line x1="254.15" y1="221.46" x2="254.15" y2="231.02" stroke="#111" stroke-width="1.2" />
<line x1="248.45" y1="221.46" x2="259.85" y2="221.46" stroke="#111" stroke-width="1.2" />
<rect x="242.90" y="231.62" width="22.50" height="48.53" fill="#9b0000" stroke="#000" stroke-width="1.2"/>
<line x1="193.18" y1="280.15" x2="278.30" y2="280.15" stroke="#1a1a1a" stroke-width="1.25" />
<line x1="217.70" y1="280.15" x2="217.70" y2="283.15" stroke="#1a1a1a" stroke-width="1.25" />
<text x="217.10" y="294.35" font-size="10.6" font-weight="normal" font-style="normal" text-anchor="middle" stroke="#000" stroke-width="0.5">Ct</text>
<line x1="254.15" y1="280.15" x2="254.15" y2="283.15" stroke="#1a1a1a" stroke-width="1.25" />
<text x="254.15" y="294.35" font-size="10.5" font-weight="bold" font-style="italic" text-anchor="middle" >Ip</text>
<text x="238.00" y="180.00" font-size="14.3" font-weight="bold" font-style="normal" text-anchor="middle" stroke="#000" stroke-width="0.3">PPO3</text>
<text transform="translate(171.40,229.17) rotate(-90)" font-size="11.25" font-weight="normal" text-anchor="middle" stroke="#000" stroke-width="0.28">Relative expression</text>
<line x1="303.60" y1="179.88" x2="303.60" y2="280.77" stroke="#1a1a1a" stroke-width="1.25" />
<line x1="300.80" y1="280.15" x2="303.60" y2="280.15" stroke="#1a1a1a" stroke-width="1.25" />
<text transform="translate(300.10,283.69) rotate(0.03) scale(0.97,1.0)" font-size="9.6" font-weight="bold" font-style="normal" text-anchor="end" stroke="#000" stroke-width="0.22">0.0</text>
<line x1="300.80" y1="255.24" x2="303.60" y2="255.24" stroke="#1a1a1a" stroke-width="1.25" />
<text transform="translate(300.10,258.77) rotate(0.03) scale(0.97,1.0)" font-size="9.6" font-weight="bold" font-style="normal" text-anchor="end" stroke="#000" stroke-width="0.22">0.5</text>
<line x1="300.80" y1="230.32" x2="303.60" y2="230.32" stroke="#1a1a1a" stroke-width="1.25" />
<text transform="translate(300.10,233.86) rotate(0.03) scale(0.97,1.0)" font-size="9.6" font-weight="bold" font-style="normal" text-anchor="end" stroke="#000" stroke-width="0.22">1.0</text>
<line x1="300.80" y1="205.41" x2="303.60" y2="205.41" stroke="#1a1a1a" stroke-width="1.25" />
<text transform="translate(300.10,208.95) rotate(0.03) scale(0.97,1.0)" font-size="9.6" font-weight="bold" font-style="normal" text-anchor="end" stroke="#000" stroke-width="0.22">1.5</text>
<line x1="300.80" y1="180.50" x2="303.60" y2="180.50" stroke="#1a1a1a" stroke-width="1.25" />
<text transform="translate(300.10,184.04) rotate(0.03) scale(0.97,1.0)" font-size="9.6" font-weight="bold" font-style="normal" text-anchor="end" stroke="#000" stroke-width="0.22">2.0</text>
<line x1="305.20" y1="231.27" x2="389.30" y2="231.27" stroke="#000" stroke-width="1.45" stroke-linecap="round" stroke-dasharray="0.01 3.84"/>
<line x1="328.15" y1="224.45" x2="328.15" y2="228.83" stroke="#111" stroke-width="1.2" />
<line x1="322.45" y1="224.45" x2="333.85" y2="224.45" stroke="#111" stroke-width="1.2" />
<rect x="316.80" y="229.43" width="22.70" height="50.72" fill="#000" stroke="#000" stroke-width="1.2"/>
<line x1="364.20" y1="237.30" x2="364.20" y2="243.28" stroke="#111" stroke-width="1.2" />
<line x1="358.50" y1="237.30" x2="369.90" y2="237.30" stroke="#111" stroke-width="1.2" />
<rect x="353.00" y="243.88" width="22.40" height="36.27" fill="#9b0000" stroke="#000" stroke-width="1.2"/>
<line x1="302.98" y1="280.15" x2="388.80" y2="280.15" stroke="#1a1a1a" stroke-width="1.25" />
<line x1="328.15" y1="280.15" x2="328.15" y2="283.15" stroke="#1a1a1a" stroke-width="1.25" />
<text x="327.55" y="294.35" font-size="10.6" font-weight="normal" font-style="normal" text-anchor="middle" stroke="#000" stroke-width="0.5">Ct</text>
<line x1="364.20" y1="280.15" x2="364.20" y2="283.15" stroke="#1a1a1a" stroke-width="1.25" />
<text x="364.20" y="294.35" font-size="10.5" font-weight="bold" font-style="italic" text-anchor="middle" >Ip</text>
<text x="347.80" y="180.00" font-size="14.3" font-weight="bold" font-style="normal" text-anchor="middle" stroke="#000" stroke-width="0.3">PPO5</text>
<text x="364.80" y="230.14" font-size="19" font-weight="bold" font-style="normal" text-anchor="middle" >*</text>
<text x="408.50" y="180.70" font-size="22" font-weight="bold" font-style="normal" text-anchor="start" >d</text>
<line x1="454.50" y1="211.18" x2="454.50" y2="281.73" stroke="#1a1a1a" stroke-width="1.25" />
<line x1="454.50" y1="179.47" x2="454.50" y2="205.03" stroke="#1a1a1a" stroke-width="1.25" />
<line x1="451.70" y1="281.10" x2="454.50" y2="281.10" stroke="#1a1a1a" stroke-width="1.25" />
<text transform="translate(451.00,284.64) rotate(0.03) scale(0.97,1.0)" font-size="9.6" font-weight="bold" font-style="normal" text-anchor="end" stroke="#000" stroke-width="0.22">0.0</text>
<line x1="451.70" y1="262.62" x2="454.50" y2="262.62" stroke="#1a1a1a" stroke-width="1.25" />
<text transform="translate(451.00,266.16) rotate(0.03) scale(0.97,1.0)" font-size="9.6" font-weight="bold" font-style="normal" text-anchor="end" stroke="#000" stroke-width="0.22">0.2</text>
<line x1="451.70" y1="244.14" x2="454.50" y2="244.14" stroke="#1a1a1a" stroke-width="1.25" />
<text transform="translate(451.00,247.68) rotate(0.03) scale(0.97,1.0)" font-size="9.6" font-weight="bold" font-style="normal" text-anchor="end" stroke="#000" stroke-width="0.22">0.4</text>
<line x1="451.70" y1="225.66" x2="454.50" y2="225.66" stroke="#1a1a1a" stroke-width="1.25" />
<text transform="translate(451.00,229.20) rotate(0.03) scale(0.97,1.0)" font-size="9.6" font-weight="bold" font-style="normal" text-anchor="end" stroke="#000" stroke-width="0.22">0.6</text>
<line x1="451.70" y1="211.80" x2="454.50" y2="211.80" stroke="#1a1a1a" stroke-width="1.25" />
<line x1="451.70" y1="204.40" x2="454.50" y2="204.40" stroke="#1a1a1a" stroke-width="1.25" />
<line x1="451.70" y1="196.30" x2="454.50" y2="196.30" stroke="#1a1a1a" stroke-width="1.25" />
<text transform="translate(451.00,199.84) rotate(0.03) scale(0.97,1.0)" font-size="9.6" font-weight="bold" font-style="normal" text-anchor="end" stroke="#000" stroke-width="0.22">1.0</text>
<line x1="451.70" y1="180.10" x2="454.50" y2="180.10" stroke="#1a1a1a" stroke-width="1.25" />
<text transform="translate(451.00,183.64) rotate(0.03) scale(0.97,1.0)" font-size="9.6" font-weight="bold" font-style="normal" text-anchor="end" stroke="#000" stroke-width="0.22">1.5</text>
<line x1="453.88" y1="281.10" x2="555.50" y2="281.10" stroke="#1a1a1a" stroke-width="1.25" />
<line x1="482.80" y1="281.10" x2="482.80" y2="284.10" stroke="#1a1a1a" stroke-width="1.25" />
<text x="482.20" y="295.30" font-size="10.6" font-weight="normal" font-style="normal" text-anchor="middle" stroke="#000" stroke-width="0.5">Ct</text>
<line x1="525.50" y1="281.10" x2="525.50" y2="284.10" stroke="#1a1a1a" stroke-width="1.25" />
<text x="525.50" y="295.30" font-size="10.5" font-weight="bold" font-style="italic" text-anchor="middle" >Ip</text>
<text transform="translate(432.00,230.30) rotate(-90)" font-size="11.6" font-weight="normal" text-anchor="middle" stroke="#000" stroke-width="0.45">PO Activity (Vmax)</text>
<g fill="#000" fill-opacity="0.55">
<circle cx="478.00" cy="203.88" r="3.2"/>
<circle cx="487.50" cy="203.14" r="3.2"/>
<circle cx="478.00" cy="215.03" r="3.2"/>
<circle cx="487.50" cy="217.44" r="3.2"/>
<circle cx="474.05" cy="226.40" r="3.2"/>
<circle cx="492.20" cy="228.89" r="3.2"/>
<circle cx="483.05" cy="230.65" r="3.2"/>
<circle cx="478.70" cy="240.91" r="3.2"/>
<circle cx="487.20" cy="241.65" r="3.2"/>
<circle cx="475.55" cy="243.77" r="3.2"/>
<circle cx="490.55" cy="245.53" r="3.2"/>
<circle cx="480.55" cy="246.08" r="3.2"/>
<circle cx="485.55" cy="246.45" r="3.2"/>
<circle cx="472.20" cy="251.90" r="3.2"/>
<circle cx="493.80" cy="251.35" r="3.2"/>
<circle cx="474.70" cy="253.66" r="3.2"/>
<circle cx="490.90" cy="253.38" r="3.2"/>
<circle cx="477.20" cy="255.32" r="3.2"/>
<circle cx="488.40" cy="255.14" r="3.2"/>
<circle cx="479.70" cy="257.08" r="3.2"/>
<circle cx="485.90" cy="256.89" r="3.2"/>
<circle cx="482.20" cy="258.65" r="3.2"/>
<circle cx="477.80" cy="250.15" r="3.2"/>
<circle cx="483.00" cy="249.68" r="3.2"/>
<circle cx="487.80" cy="250.15" r="3.2"/>
<circle cx="482.90" cy="253.38" r="3.2"/>
<circle cx="473.05" cy="262.62" r="3.2"/>
<circle cx="493.05" cy="262.07" r="3.2"/>
<circle cx="488.05" cy="263.27" r="3.2"/>
<circle cx="478.05" cy="265.58" r="3.2"/>
<circle cx="483.05" cy="266.69" r="3.2"/>
<circle cx="483.05" cy="277.13" r="3.2"/>
</g>
<g fill="#c4c410" fill-opacity="0.65">
<circle cx="525.50" cy="187.10" r="3.2"/>
<circle cx="525.50" cy="203.30" r="3.2"/>
<circle cx="525.50" cy="216.70" r="3.2"/>
<circle cx="520.90" cy="220.67" r="3.2"/>
<circle cx="530.10" cy="226.31" r="3.2"/>
<circle cx="536.40" cy="230.65" r="3.2"/>
<circle cx="514.70" cy="233.70" r="3.2"/>
<circle cx="521.80" cy="236.56" r="3.2"/>
<circle cx="529.00" cy="236.84" r="3.2"/>
<circle cx="520.90" cy="240.07" r="3.2"/>
<circle cx="530.20" cy="240.91" r="3.2"/>
<circle cx="518.30" cy="245.71" r="3.2"/>
<circle cx="535.10" cy="246.82" r="3.2"/>
<circle cx="523.30" cy="247.56" r="3.2"/>
<circle cx="528.00" cy="248.02" r="3.2"/>
<circle cx="517.70" cy="251.81" r="3.2"/>
<circle cx="533.00" cy="251.53" r="3.2"/>
<circle cx="520.50" cy="250.89" r="3.2"/>
<circle cx="530.20" cy="250.89" r="3.2"/>
<circle cx="528.00" cy="255.51" r="3.2"/>
<circle cx="523.00" cy="258.37" r="3.2"/>
<circle cx="534.60" cy="259.57" r="3.2"/>
<circle cx="516.40" cy="265.58" r="3.2"/>
<circle cx="525.50" cy="267.70" r="3.2"/>
<circle cx="515.50" cy="269.83" r="3.2"/>
<circle cx="520.50" cy="275.09" r="3.2"/>
<circle cx="535.20" cy="274.54" r="3.2"/>
<circle cx="530.20" cy="275.83" r="3.2"/>
<circle cx="525.50" cy="277.59" r="3.2"/>
</g>
<line x1="468.30" y1="251.72" x2="497.30" y2="251.72" stroke="#000" stroke-width="1.3" />
<line x1="511.00" y1="248.67" x2="540.00" y2="248.67" stroke="#000" stroke-width="1.3" />
<line x1="600.20" y1="179.47" x2="600.20" y2="281.12" stroke="#1a1a1a" stroke-width="1.25" />
<line x1="597.40" y1="280.50" x2="600.20" y2="280.50" stroke="#1a1a1a" stroke-width="1.25" />
<text transform="translate(596.70,284.04) rotate(0.03) scale(0.97,1.0)" font-size="9.6" font-weight="bold" font-style="normal" text-anchor="end" stroke="#000" stroke-width="0.22">0.0</text>
<line x1="597.40" y1="255.40" x2="600.20" y2="255.40" stroke="#1a1a1a" stroke-width="1.25" />
<text transform="translate(596.70,258.94) rotate(0.03) scale(0.97,1.0)" font-size="9.6" font-weight="bold" font-style="normal" text-anchor="end" stroke="#000" stroke-width="0.22">0.5</text>
<line x1="597.40" y1="230.30" x2="600.20" y2="230.30" stroke="#1a1a1a" stroke-width="1.25" />
<text transform="translate(596.70,233.84) rotate(0.03) scale(0.97,1.0)" font-size="9.6" font-weight="bold" font-style="normal" text-anchor="end" stroke="#000" stroke-width="0.22">1.0</text>
<line x1="597.40" y1="205.20" x2="600.20" y2="205.20" stroke="#1a1a1a" stroke-width="1.25" />
<text transform="translate(596.70,208.74) rotate(0.03) scale(0.97,1.0)" font-size="9.6" font-weight="bold" font-style="normal" text-anchor="end" stroke="#000" stroke-width="0.22">1.5</text>
<line x1="597.40" y1="180.10" x2="600.20" y2="180.10" stroke="#1a1a1a" stroke-width="1.25" />
<text transform="translate(596.70,183.64) rotate(0.03) scale(0.97,1.0)" font-size="9.6" font-weight="bold" font-style="normal" text-anchor="end" stroke="#000" stroke-width="0.22">2.0</text>
<line x1="601.00" y1="230.75" x2="684.50" y2="230.75" stroke="#000" stroke-width="1.15" stroke-dasharray="2.4 1.9"/>
<line x1="623.65" y1="222.27" x2="623.65" y2="228.24" stroke="#111" stroke-width="1.2" />
<line x1="617.95" y1="222.27" x2="629.35" y2="222.27" stroke="#111" stroke-width="1.2" />
<rect x="612.40" y="228.84" width="22.50" height="51.66" fill="#000" stroke="#000" stroke-width="1.2"/>
<line x1="659.80" y1="228.29" x2="659.80" y2="239.24" stroke="#111" stroke-width="1.2" />
<line x1="654.10" y1="228.29" x2="665.50" y2="228.29" stroke="#111" stroke-width="1.2" />
<rect x="648.90" y="239.84" width="21.80" height="40.66" fill="#9b0000" stroke="#000" stroke-width="1.2"/>
<line x1="599.58" y1="280.50" x2="684.00" y2="280.50" stroke="#1a1a1a" stroke-width="1.25" />
<line x1="623.65" y1="280.50" x2="623.65" y2="283.50" stroke="#1a1a1a" stroke-width="1.25" />
<text x="623.05" y="294.70" font-size="10.6" font-weight="normal" font-style="normal" text-anchor="middle" stroke="#000" stroke-width="0.5">Ct</text>
<line x1="659.80" y1="280.50" x2="659.80" y2="283.50" stroke="#1a1a1a" stroke-width="1.25" />
<text x="659.80" y="294.70" font-size="10.5" font-weight="bold" font-style="italic" text-anchor="middle" >Ip</text>
<text x="642.50" y="179.60" font-size="14.3" font-weight="bold" font-style="normal" text-anchor="middle" stroke="#000" stroke-width="0.3">PPO3</text>
<text transform="translate(578.00,229.15) rotate(-90)" font-size="11.25" font-weight="normal" text-anchor="middle" stroke="#000" stroke-width="0.45">Relative expression</text>
<line x1="711.00" y1="179.47" x2="711.00" y2="281.12" stroke="#1a1a1a" stroke-width="1.25" />
<line x1="708.20" y1="280.50" x2="711.00" y2="280.50" stroke="#1a1a1a" stroke-width="1.25" />
<text transform="translate(707.50,284.04) rotate(0.03) scale(0.97,1.0)" font-size="9.6" font-weight="bold" font-style="normal" text-anchor="end" stroke="#000" stroke-width="0.22">0.0</text>
<line x1="708.20" y1="255.40" x2="711.00" y2="255.40" stroke="#1a1a1a" stroke-width="1.25" />
<text transform="translate(707.50,258.94) rotate(0.03) scale(0.97,1.0)" font-size="9.6" font-weight="bold" font-style="normal" text-anchor="end" stroke="#000" stroke-width="0.22">0.5</text>
<line x1="708.20" y1="230.30" x2="711.00" y2="230.30" stroke="#1a1a1a" stroke-width="1.25" />
<text transform="translate(707.50,233.84) rotate(0.03) scale(0.97,1.0)" font-size="9.6" font-weight="bold" font-style="normal" text-anchor="end" stroke="#000" stroke-width="0.22">1.0</text>
<line x1="708.20" y1="205.20" x2="711.00" y2="205.20" stroke="#1a1a1a" stroke-width="1.25" />
<text transform="translate(707.50,208.74) rotate(0.03) scale(0.97,1.0)" font-size="9.6" font-weight="bold" font-style="normal" text-anchor="end" stroke="#000" stroke-width="0.22">1.5</text>
<line x1="708.20" y1="180.10" x2="711.00" y2="180.10" stroke="#1a1a1a" stroke-width="1.25" />
<text transform="translate(707.50,183.64) rotate(0.03) scale(0.97,1.0)" font-size="9.6" font-weight="bold" font-style="normal" text-anchor="end" stroke="#000" stroke-width="0.22">2.0</text>
<line x1="711.80" y1="230.75" x2="797.00" y2="230.75" stroke="#000" stroke-width="1.15" stroke-dasharray="2.4 1.9"/>
<line x1="735.45" y1="225.48" x2="735.45" y2="229.60" stroke="#111" stroke-width="1.2" />
<line x1="729.75" y1="225.48" x2="741.15" y2="225.48" stroke="#111" stroke-width="1.2" />
<rect x="723.80" y="230.20" width="23.30" height="50.30" fill="#000" stroke="#000" stroke-width="1.2"/>
<line x1="772.00" y1="188.33" x2="772.00" y2="220.81" stroke="#111" stroke-width="1.2" />
<line x1="766.30" y1="188.33" x2="777.70" y2="188.33" stroke="#111" stroke-width="1.2" />
<rect x="760.80" y="221.41" width="22.40" height="59.09" fill="#9b0000" stroke="#000" stroke-width="1.2"/>
<line x1="710.38" y1="280.50" x2="796.50" y2="280.50" stroke="#1a1a1a" stroke-width="1.25" />
<line x1="735.45" y1="280.50" x2="735.45" y2="283.50" stroke="#1a1a1a" stroke-width="1.25" />
<text x="734.85" y="294.70" font-size="10.6" font-weight="normal" font-style="normal" text-anchor="middle" stroke="#000" stroke-width="0.5">Ct</text>
<line x1="772.00" y1="280.50" x2="772.00" y2="283.50" stroke="#1a1a1a" stroke-width="1.25" />
<text x="772.00" y="294.70" font-size="10.5" font-weight="bold" font-style="italic" text-anchor="middle" >Ip</text>
<text x="752.30" y="179.60" font-size="14.3" font-weight="bold" font-style="normal" text-anchor="middle" stroke="#000" stroke-width="0.3">PPO5</text>
<text x="2.00" y="318.85" font-size="22" font-weight="bold" font-style="normal" text-anchor="start" >e</text>
<line x1="51.25" y1="317.62" x2="51.25" y2="417.52" stroke="#1a1a1a" stroke-width="1.25" />
<line x1="48.45" y1="416.90" x2="51.25" y2="416.90" stroke="#1a1a1a" stroke-width="1.25" />
<text transform="translate(47.75,420.44) rotate(0.03) scale(0.97,1.0)" font-size="9.6" font-weight="bold" font-style="normal" text-anchor="end" stroke="#000" stroke-width="0.22">0.0</text>
<line x1="48.45" y1="392.24" x2="51.25" y2="392.24" stroke="#1a1a1a" stroke-width="1.25" />
<text transform="translate(47.75,395.77) rotate(0.03) scale(0.97,1.0)" font-size="9.6" font-weight="bold" font-style="normal" text-anchor="end" stroke="#000" stroke-width="0.22">0.5</text>
<line x1="48.45" y1="367.57" x2="51.25" y2="367.57" stroke="#1a1a1a" stroke-width="1.25" />
<text transform="translate(47.75,371.11) rotate(0.03) scale(0.97,1.0)" font-size="9.6" font-weight="bold" font-style="normal" text-anchor="end" stroke="#000" stroke-width="0.22">1.0</text>
<line x1="48.45" y1="342.91" x2="51.25" y2="342.91" stroke="#1a1a1a" stroke-width="1.25" />
<text transform="translate(47.75,346.45) rotate(0.03) scale(0.97,1.0)" font-size="9.6" font-weight="bold" font-style="normal" text-anchor="end" stroke="#000" stroke-width="0.22">1.5</text>
<line x1="48.45" y1="318.25" x2="51.25" y2="318.25" stroke="#1a1a1a" stroke-width="1.25" />
<text transform="translate(47.75,321.79) rotate(0.03) scale(0.97,1.0)" font-size="9.6" font-weight="bold" font-style="normal" text-anchor="end" stroke="#000" stroke-width="0.22">2.0</text>
<line x1="50.62" y1="416.90" x2="151.00" y2="416.90" stroke="#1a1a1a" stroke-width="1.25" />
<line x1="78.90" y1="416.90" x2="78.90" y2="419.90" stroke="#1a1a1a" stroke-width="1.25" />
<text x="78.30" y="431.10" font-size="10.6" font-weight="normal" font-style="normal" text-anchor="middle" stroke="#000" stroke-width="0.5">Ct</text>
<line x1="121.50" y1="416.90" x2="121.50" y2="419.90" stroke="#1a1a1a" stroke-width="1.25" />
<text x="121.50" y="431.10" font-size="10.5" font-weight="bold" font-style="italic" text-anchor="middle" >If</text>
<text transform="translate(27.80,367.27) rotate(-90)" font-size="11.6" font-weight="normal" text-anchor="middle" stroke="#000" stroke-width="0.28">PO Activity (Vmax)</text>
<g fill="#000" fill-opacity="0.55">
<circle cx="79.10" cy="336.20" r="3.2"/>
<circle cx="83.90" cy="348.19" r="3.2"/>
<circle cx="74.60" cy="353.07" r="3.2"/>
<circle cx="69.40" cy="369.70" r="3.2"/>
<circle cx="74.10" cy="374.18" r="3.2"/>
<circle cx="79.10" cy="374.48" r="3.2"/>
<circle cx="84.10" cy="372.16" r="3.2"/>
<circle cx="89.10" cy="368.66" r="3.2"/>
<circle cx="78.90" cy="388.93" r="3.2"/>
<circle cx="76.84" cy="387.28" r="3.2"/>
<circle cx="81.08" cy="387.28" r="3.2"/>
<circle cx="74.78" cy="385.62" r="3.2"/>
<circle cx="83.26" cy="385.62" r="3.2"/>
<circle cx="72.72" cy="383.96" r="3.2"/>
<circle cx="85.44" cy="383.96" r="3.2"/>
<circle cx="70.66" cy="382.30" r="3.2"/>
<circle cx="87.62" cy="382.30" r="3.2"/>
<circle cx="68.60" cy="380.65" r="3.2"/>
<circle cx="89.80" cy="380.65" r="3.2"/>
<circle cx="70.90" cy="389.62" r="3.2"/>
<circle cx="87.50" cy="389.62" r="3.2"/>
<circle cx="73.30" cy="391.25" r="3.2"/>
<circle cx="84.80" cy="391.25" r="3.2"/>
<circle cx="75.60" cy="392.78" r="3.2"/>
<circle cx="82.40" cy="392.78" r="3.2"/>
<circle cx="78.90" cy="397.76" r="3.2"/>
<circle cx="77.34" cy="397.24" r="3.2"/>
<circle cx="80.50" cy="397.24" r="3.2"/>
<circle cx="75.79" cy="396.72" r="3.2"/>
<circle cx="82.10" cy="396.72" r="3.2"/>
<circle cx="74.23" cy="396.20" r="3.2"/>
<circle cx="83.70" cy="396.20" r="3.2"/>
<circle cx="72.67" cy="395.68" r="3.2"/>
<circle cx="85.30" cy="395.68" r="3.2"/>
<circle cx="71.11" cy="395.15" r="3.2"/>
<circle cx="86.90" cy="395.15" r="3.2"/>
<circle cx="69.56" cy="394.63" r="3.2"/>
<circle cx="88.50" cy="394.63" r="3.2"/>
<circle cx="68.00" cy="394.11" r="3.2"/>
<circle cx="90.10" cy="394.11" r="3.2"/>
<circle cx="78.90" cy="408.27" r="3.2"/>
<circle cx="77.44" cy="407.14" r="3.2"/>
<circle cx="80.36" cy="407.14" r="3.2"/>
<circle cx="75.99" cy="406.01" r="3.2"/>
<circle cx="81.81" cy="406.01" r="3.2"/>
<circle cx="74.53" cy="404.89" r="3.2"/>
<circle cx="83.27" cy="404.89" r="3.2"/>
<circle cx="73.07" cy="403.76" r="3.2"/>
<circle cx="84.73" cy="403.76" r="3.2"/>
<circle cx="71.61" cy="402.63" r="3.2"/>
<circle cx="86.19" cy="402.63" r="3.2"/>
<circle cx="70.16" cy="401.50" r="3.2"/>
<circle cx="87.64" cy="401.50" r="3.2"/>
<circle cx="68.70" cy="400.38" r="3.2"/>
<circle cx="89.10" cy="400.38" r="3.2"/>
</g>
<g fill="#14a0b9" fill-opacity="0.65">
<circle cx="112.80" cy="390.26" r="3.2"/>
<circle cx="126.20" cy="388.04" r="3.2"/>
<circle cx="115.50" cy="397.66" r="3.2"/>
<circle cx="127.50" cy="397.66" r="3.2"/>
<circle cx="118.00" cy="398.90" r="3.2"/>
<circle cx="125.00" cy="398.90" r="3.2"/>
<circle cx="121.50" cy="403.98" r="3.2"/>
<circle cx="119.84" cy="403.36" r="3.2"/>
<circle cx="123.16" cy="403.36" r="3.2"/>
<circle cx="118.19" cy="402.74" r="3.2"/>
<circle cx="124.81" cy="402.74" r="3.2"/>
<circle cx="116.53" cy="402.12" r="3.2"/>
<circle cx="126.47" cy="402.12" r="3.2"/>
<circle cx="114.87" cy="401.50" r="3.2"/>
<circle cx="128.13" cy="401.50" r="3.2"/>
<circle cx="113.21" cy="400.88" r="3.2"/>
<circle cx="129.79" cy="400.88" r="3.2"/>
<circle cx="111.56" cy="400.26" r="3.2"/>
<circle cx="131.44" cy="400.26" r="3.2"/>
<circle cx="109.90" cy="399.64" r="3.2"/>
<circle cx="133.10" cy="399.64" r="3.2"/>
<circle cx="116.61" cy="406.54" r="3.2"/>
<circle cx="126.39" cy="406.54" r="3.2"/>
<circle cx="114.99" cy="405.80" r="3.2"/>
<circle cx="128.01" cy="405.80" r="3.2"/>
<circle cx="113.36" cy="405.06" r="3.2"/>
<circle cx="129.64" cy="405.06" r="3.2"/>
<circle cx="111.73" cy="404.32" r="3.2"/>
<circle cx="131.27" cy="404.32" r="3.2"/>
<circle cx="110.10" cy="403.58" r="3.2"/>
<circle cx="132.90" cy="403.58" r="3.2"/>
<circle cx="121.50" cy="413.45" r="3.2"/>
<circle cx="119.87" cy="412.62" r="3.2"/>
<circle cx="123.13" cy="412.62" r="3.2"/>
<circle cx="118.24" cy="411.80" r="3.2"/>
<circle cx="124.76" cy="411.80" r="3.2"/>
<circle cx="116.61" cy="410.97" r="3.2"/>
<circle cx="126.39" cy="410.97" r="3.2"/>
<circle cx="114.99" cy="410.15" r="3.2"/>
<circle cx="128.01" cy="410.15" r="3.2"/>
<circle cx="113.36" cy="409.33" r="3.2"/>
<circle cx="129.64" cy="409.33" r="3.2"/>
<circle cx="111.73" cy="408.50" r="3.2"/>
<circle cx="131.27" cy="408.50" r="3.2"/>
<circle cx="110.10" cy="407.68" r="3.2"/>
<circle cx="132.90" cy="407.68" r="3.2"/>
</g>
<line x1="64.40" y1="394.95" x2="93.40" y2="394.95" stroke="#000" stroke-width="1.3" />
<line x1="107.00" y1="402.69" x2="136.00" y2="402.69" stroke="#000" stroke-width="1.3" />
<text x="121.30" y="364.14" font-size="19" font-weight="bold" font-style="normal" text-anchor="middle" letter-spacing="0">****</text>
<line x1="194.30" y1="315.98" x2="194.30" y2="418.38" stroke="#1a1a1a" stroke-width="1.25" />
<line x1="191.50" y1="417.75" x2="194.30" y2="417.75" stroke="#1a1a1a" stroke-width="1.25" />
<text transform="translate(190.80,421.29) rotate(0.03) scale(0.97,1.0)" font-size="9.6" font-weight="bold" font-style="normal" text-anchor="end" stroke="#000" stroke-width="0.22">0.0</text>
<line x1="191.50" y1="392.46" x2="194.30" y2="392.46" stroke="#1a1a1a" stroke-width="1.25" />
<text transform="translate(190.80,396.00) rotate(0.03) scale(0.97,1.0)" font-size="9.6" font-weight="bold" font-style="normal" text-anchor="end" stroke="#000" stroke-width="0.22">0.5</text>
<line x1="191.50" y1="367.18" x2="194.30" y2="367.18" stroke="#1a1a1a" stroke-width="1.25" />
<text transform="translate(190.80,370.71) rotate(0.03) scale(0.97,1.0)" font-size="9.6" font-weight="bold" font-style="normal" text-anchor="end" stroke="#000" stroke-width="0.22">1.0</text>
<line x1="191.50" y1="341.89" x2="194.30" y2="341.89" stroke="#1a1a1a" stroke-width="1.25" />
<text transform="translate(190.80,345.42) rotate(0.03) scale(0.97,1.0)" font-size="9.6" font-weight="bold" font-style="normal" text-anchor="end" stroke="#000" stroke-width="0.22">1.5</text>
<line x1="191.50" y1="316.60" x2="194.30" y2="316.60" stroke="#1a1a1a" stroke-width="1.25" />
<text transform="translate(190.80,320.14) rotate(0.03) scale(0.97,1.0)" font-size="9.6" font-weight="bold" font-style="normal" text-anchor="end" stroke="#000" stroke-width="0.22">2.0</text>
<line x1="195.90" y1="368.12" x2="279.30" y2="368.12" stroke="#000" stroke-width="1.45" stroke-linecap="round" stroke-dasharray="0.01 3.84"/>
<line x1="218.20" y1="359.74" x2="218.20" y2="365.25" stroke="#111" stroke-width="1.2" />
<line x1="212.50" y1="359.74" x2="223.90" y2="359.74" stroke="#111" stroke-width="1.2" />
<rect x="206.90" y="365.85" width="22.60" height="51.90" fill="#000" stroke="#000" stroke-width="1.2"/>
<line x1="254.65" y1="335.01" x2="254.65" y2="352.36" stroke="#111" stroke-width="1.2" />
<line x1="248.95" y1="335.01" x2="260.35" y2="335.01" stroke="#111" stroke-width="1.2" />
<rect x="243.40" y="352.96" width="22.50" height="64.79" fill="#9b0000" stroke="#000" stroke-width="1.2"/>
<line x1="193.68" y1="417.75" x2="278.80" y2="417.75" stroke="#1a1a1a" stroke-width="1.25" />
<line x1="218.20" y1="417.75" x2="218.20" y2="420.75" stroke="#1a1a1a" stroke-width="1.25" />
<text x="217.60" y="431.95" font-size="10.6" font-weight="normal" font-style="normal" text-anchor="middle" stroke="#000" stroke-width="0.5">Ct</text>
<line x1="254.65" y1="417.75" x2="254.65" y2="420.75" stroke="#1a1a1a" stroke-width="1.25" />
<text x="254.65" y="431.95" font-size="10.5" font-weight="bold" font-style="italic" text-anchor="middle" >If</text>
<text x="238.50" y="316.10" font-size="14.3" font-weight="bold" font-style="normal" text-anchor="middle" stroke="#000" stroke-width="0.3">PPO3</text>
<text transform="translate(171.40,366.03) rotate(-90)" font-size="11.25" font-weight="normal" text-anchor="middle" stroke="#000" stroke-width="0.28">Relative expression</text>
<line x1="303.60" y1="315.98" x2="303.60" y2="418.38" stroke="#1a1a1a" stroke-width="1.25" />
<line x1="300.80" y1="417.75" x2="303.60" y2="417.75" stroke="#1a1a1a" stroke-width="1.25" />
<text transform="translate(300.10,421.29) rotate(0.03) scale(0.97,1.0)" font-size="9.6" font-weight="bold" font-style="normal" text-anchor="end" stroke="#000" stroke-width="0.22">0.0</text>
<line x1="300.80" y1="392.46" x2="303.60" y2="392.46" stroke="#1a1a1a" stroke-width="1.25" />
<text transform="translate(300.10,396.00) rotate(0.03) scale(0.97,1.0)" font-size="9.6" font-weight="bold" font-style="normal" text-anchor="end" stroke="#000" stroke-width="0.22">0.5</text>
<line x1="300.80" y1="367.18" x2="303.60" y2="367.18" stroke="#1a1a1a" stroke-width="1.25" />
<text transform="translate(300.10,370.71) rotate(0.03) scale(0.97,1.0)" font-size="9.6" font-weight="bold" font-style="normal" text-anchor="end" stroke="#000" stroke-width="0.22">1.0</text>
<line x1="300.80" y1="341.89" x2="303.60" y2="341.89" stroke="#1a1a1a" stroke-width="1.25" />
<text transform="translate(300.10,345.42) rotate(0.03) scale(0.97,1.0)" font-size="9.6" font-weight="bold" font-style="normal" text-anchor="end" stroke="#000" stroke-width="0.22">1.5</text>
<line x1="300.80" y1="316.60" x2="303.60" y2="316.60" stroke="#1a1a1a" stroke-width="1.25" />
<text transform="translate(300.10,320.14) rotate(0.03) scale(0.97,1.0)" font-size="9.6" font-weight="bold" font-style="normal" text-anchor="end" stroke="#000" stroke-width="0.22">2.0</text>
<line x1="305.20" y1="368.12" x2="389.30" y2="368.12" stroke="#000" stroke-width="1.45" stroke-linecap="round" stroke-dasharray="0.01 3.84"/>
<line x1="328.15" y1="361.61" x2="328.15" y2="366.16" stroke="#111" stroke-width="1.2" />
<line x1="322.45" y1="361.61" x2="333.85" y2="361.61" stroke="#111" stroke-width="1.2" />
<rect x="316.80" y="366.76" width="22.70" height="50.99" fill="#000" stroke="#000" stroke-width="1.2"/>
<line x1="364.20" y1="349.57" x2="364.20" y2="362.52" stroke="#111" stroke-width="1.2" />
<line x1="358.50" y1="349.57" x2="369.90" y2="349.57" stroke="#111" stroke-width="1.2" />
<rect x="353.00" y="363.12" width="22.40" height="54.63" fill="#9b0000" stroke="#000" stroke-width="1.2"/>
<line x1="302.98" y1="417.75" x2="388.80" y2="417.75" stroke="#1a1a1a" stroke-width="1.25" />
<line x1="328.15" y1="417.75" x2="328.15" y2="420.75" stroke="#1a1a1a" stroke-width="1.25" />
<text x="327.55" y="431.95" font-size="10.6" font-weight="normal" font-style="normal" text-anchor="middle" stroke="#000" stroke-width="0.5">Ct</text>
<line x1="364.20" y1="417.75" x2="364.20" y2="420.75" stroke="#1a1a1a" stroke-width="1.25" />
<text x="364.20" y="431.95" font-size="10.5" font-weight="bold" font-style="italic" text-anchor="middle" >If</text>
<text x="347.80" y="316.10" font-size="14.3" font-weight="bold" font-style="normal" text-anchor="middle" stroke="#000" stroke-width="0.3">PPO5</text>
<text x="408.50" y="317.85" font-size="22" font-weight="bold" font-style="normal" text-anchor="start" >f</text>
<line x1="454.50" y1="316.62" x2="454.50" y2="417.48" stroke="#1a1a1a" stroke-width="1.25" />
<line x1="451.70" y1="416.85" x2="454.50" y2="416.85" stroke="#1a1a1a" stroke-width="1.25" />
<text transform="translate(451.00,420.39) rotate(0.03) scale(0.97,1.0)" font-size="9.6" font-weight="bold" font-style="normal" text-anchor="end" stroke="#000" stroke-width="0.22">0.0</text>
<line x1="451.70" y1="396.93" x2="454.50" y2="396.93" stroke="#1a1a1a" stroke-width="1.25" />
<text transform="translate(451.00,400.47) rotate(0.03) scale(0.97,1.0)" font-size="9.6" font-weight="bold" font-style="normal" text-anchor="end" stroke="#000" stroke-width="0.22">0.2</text>
<line x1="451.70" y1="377.01" x2="454.50" y2="377.01" stroke="#1a1a1a" stroke-width="1.25" />
<text transform="translate(451.00,380.55) rotate(0.03) scale(0.97,1.0)" font-size="9.6" font-weight="bold" font-style="normal" text-anchor="end" stroke="#000" stroke-width="0.22">0.4</text>
<line x1="451.70" y1="357.09" x2="454.50" y2="357.09" stroke="#1a1a1a" stroke-width="1.25" />
<text transform="translate(451.00,360.63) rotate(0.03) scale(0.97,1.0)" font-size="9.6" font-weight="bold" font-style="normal" text-anchor="end" stroke="#000" stroke-width="0.22">0.6</text>
<line x1="451.70" y1="337.17" x2="454.50" y2="337.17" stroke="#1a1a1a" stroke-width="1.25" />
<text transform="translate(451.00,340.71) rotate(0.03) scale(0.97,1.0)" font-size="9.6" font-weight="bold" font-style="normal" text-anchor="end" stroke="#000" stroke-width="0.22">0.8</text>
<line x1="451.70" y1="317.25" x2="454.50" y2="317.25" stroke="#1a1a1a" stroke-width="1.25" />
<text transform="translate(451.00,320.79) rotate(0.03) scale(0.97,1.0)" font-size="9.6" font-weight="bold" font-style="normal" text-anchor="end" stroke="#000" stroke-width="0.22">1.0</text>
<line x1="453.88" y1="416.85" x2="555.50" y2="416.85" stroke="#1a1a1a" stroke-width="1.25" />
<line x1="482.60" y1="416.85" x2="482.60" y2="419.85" stroke="#1a1a1a" stroke-width="1.25" />
<text x="482.00" y="431.05" font-size="10.6" font-weight="normal" font-style="normal" text-anchor="middle" stroke="#000" stroke-width="0.5">Ct</text>
<line x1="525.80" y1="416.85" x2="525.80" y2="419.85" stroke="#1a1a1a" stroke-width="1.25" />
<text x="525.80" y="431.05" font-size="10.5" font-weight="bold" font-style="italic" text-anchor="middle" >If</text>
<text transform="translate(432.00,366.75) rotate(-90)" font-size="11.6" font-weight="normal" text-anchor="middle" stroke="#000" stroke-width="0.45">PO Activity (Vmax)</text>
<g fill="#000" fill-opacity="0.55">
<circle cx="482.85" cy="338.27" r="3.2"/>
<circle cx="492.00" cy="340.56" r="3.2"/>
<circle cx="473.85" cy="345.64" r="3.2"/>
<circle cx="482.85" cy="348.23" r="3.2"/>
<circle cx="473.85" cy="357.89" r="3.2"/>
<circle cx="492.00" cy="360.58" r="3.2"/>
<circle cx="482.85" cy="362.47" r="3.2"/>
<circle cx="478.50" cy="373.52" r="3.2"/>
<circle cx="487.00" cy="374.32" r="3.2"/>
<circle cx="475.35" cy="376.61" r="3.2"/>
<circle cx="490.35" cy="378.50" r="3.2"/>
<circle cx="480.35" cy="379.10" r="3.2"/>
<circle cx="485.35" cy="379.50" r="3.2"/>
<circle cx="472.00" cy="385.38" r="3.2"/>
<circle cx="493.60" cy="384.78" r="3.2"/>
<circle cx="474.50" cy="387.27" r="3.2"/>
<circle cx="490.70" cy="386.97" r="3.2"/>
<circle cx="477.00" cy="389.06" r="3.2"/>
<circle cx="488.20" cy="388.86" r="3.2"/>
<circle cx="479.50" cy="390.95" r="3.2"/>
<circle cx="485.70" cy="390.75" r="3.2"/>
<circle cx="482.00" cy="392.65" r="3.2"/>
<circle cx="477.60" cy="383.48" r="3.2"/>
<circle cx="482.80" cy="382.99" r="3.2"/>
<circle cx="487.60" cy="383.48" r="3.2"/>
<circle cx="482.70" cy="386.97" r="3.2"/>
<circle cx="472.85" cy="396.93" r="3.2"/>
<circle cx="492.85" cy="396.33" r="3.2"/>
<circle cx="487.85" cy="397.63" r="3.2"/>
<circle cx="477.85" cy="400.12" r="3.2"/>
<circle cx="482.85" cy="401.31" r="3.2"/>
<circle cx="482.85" cy="412.57" r="3.2"/>
</g>
<g fill="#14a0b9" fill-opacity="0.65">
<circle cx="525.80" cy="344.14" r="3.2"/>
<circle cx="515.55" cy="354.10" r="3.2"/>
<circle cx="520.80" cy="358.88" r="3.2"/>
<circle cx="525.80" cy="362.47" r="3.2"/>
<circle cx="530.80" cy="359.38" r="3.2"/>
<circle cx="535.90" cy="358.48" r="3.2"/>
<circle cx="515.55" cy="373.52" r="3.2"/>
<circle cx="520.80" cy="375.32" r="3.2"/>
<circle cx="525.80" cy="376.21" r="3.2"/>
<circle cx="530.80" cy="374.12" r="3.2"/>
<circle cx="535.90" cy="371.03" r="3.2"/>
<circle cx="535.80" cy="389.96" r="3.2"/>
<circle cx="515.55" cy="392.65" r="3.2"/>
<circle cx="520.80" cy="396.93" r="3.2"/>
<circle cx="525.80" cy="397.43" r="3.2"/>
<circle cx="530.80" cy="395.93" r="3.2"/>
<circle cx="515.55" cy="405.69" r="3.2"/>
<circle cx="520.80" cy="408.09" r="3.2"/>
<circle cx="525.80" cy="413.46" r="3.2"/>
<circle cx="530.80" cy="410.38" r="3.2"/>
<circle cx="535.90" cy="408.09" r="3.2"/>
<circle cx="525.80" cy="385.97" r="3.2"/>
<circle cx="524.26" cy="385.26" r="3.2"/>
<circle cx="527.34" cy="385.26" r="3.2"/>
<circle cx="522.71" cy="384.55" r="3.2"/>
<circle cx="528.89" cy="384.55" r="3.2"/>
<circle cx="521.17" cy="383.84" r="3.2"/>
<circle cx="530.43" cy="383.84" r="3.2"/>
<circle cx="519.63" cy="383.13" r="3.2"/>
<circle cx="531.97" cy="383.13" r="3.2"/>
<circle cx="518.09" cy="382.42" r="3.2"/>
<circle cx="533.51" cy="382.42" r="3.2"/>
<circle cx="516.54" cy="381.71" r="3.2"/>
<circle cx="535.06" cy="381.71" r="3.2"/>
<circle cx="515.00" cy="380.99" r="3.2"/>
<circle cx="536.60" cy="380.99" r="3.2"/>
</g>
<line x1="468.10" y1="385.18" x2="497.10" y2="385.18" stroke="#000" stroke-width="1.3" />
<line x1="511.30" y1="383.09" x2="540.30" y2="383.09" stroke="#000" stroke-width="1.3" />
<line x1="600.20" y1="316.43" x2="600.20" y2="418.02" stroke="#1a1a1a" stroke-width="1.25" />
<line x1="597.40" y1="417.40" x2="600.20" y2="417.40" stroke="#1a1a1a" stroke-width="1.25" />
<text transform="translate(596.70,420.94) rotate(0.03) scale(0.97,1.0)" font-size="9.6" font-weight="bold" font-style="normal" text-anchor="end" stroke="#000" stroke-width="0.22">0.0</text>
<line x1="597.40" y1="392.31" x2="600.20" y2="392.31" stroke="#1a1a1a" stroke-width="1.25" />
<text transform="translate(596.70,395.85) rotate(0.03) scale(0.97,1.0)" font-size="9.6" font-weight="bold" font-style="normal" text-anchor="end" stroke="#000" stroke-width="0.22">0.5</text>
<line x1="597.40" y1="367.23" x2="600.20" y2="367.23" stroke="#1a1a1a" stroke-width="1.25" />
<text transform="translate(596.70,370.76) rotate(0.03) scale(0.97,1.0)" font-size="9.6" font-weight="bold" font-style="normal" text-anchor="end" stroke="#000" stroke-width="0.22">1.0</text>
<line x1="597.40" y1="342.14" x2="600.20" y2="342.14" stroke="#1a1a1a" stroke-width="1.25" />
<text transform="translate(596.70,345.67) rotate(0.03) scale(0.97,1.0)" font-size="9.6" font-weight="bold" font-style="normal" text-anchor="end" stroke="#000" stroke-width="0.22">1.5</text>
<line x1="597.40" y1="317.05" x2="600.20" y2="317.05" stroke="#1a1a1a" stroke-width="1.25" />
<text transform="translate(596.70,320.59) rotate(0.03) scale(0.97,1.0)" font-size="9.6" font-weight="bold" font-style="normal" text-anchor="end" stroke="#000" stroke-width="0.22">2.0</text>
<line x1="601.00" y1="367.68" x2="684.50" y2="367.68" stroke="#000" stroke-width="1.15" stroke-dasharray="2.4 1.9"/>
<line x1="623.65" y1="358.85" x2="623.65" y2="364.87" stroke="#111" stroke-width="1.2" />
<line x1="617.95" y1="358.85" x2="629.35" y2="358.85" stroke="#111" stroke-width="1.2" />
<rect x="612.40" y="365.47" width="22.50" height="51.93" fill="#000" stroke="#000" stroke-width="1.2"/>
<line x1="659.80" y1="370.39" x2="659.80" y2="374.80" stroke="#111" stroke-width="1.2" />
<line x1="654.10" y1="370.39" x2="665.50" y2="370.39" stroke="#111" stroke-width="1.2" />
<rect x="648.90" y="375.40" width="21.80" height="42.00" fill="#9b0000" stroke="#000" stroke-width="1.2"/>
<line x1="599.58" y1="417.40" x2="684.00" y2="417.40" stroke="#1a1a1a" stroke-width="1.25" />
<line x1="623.65" y1="417.40" x2="623.65" y2="420.40" stroke="#1a1a1a" stroke-width="1.25" />
<text x="623.05" y="431.60" font-size="10.6" font-weight="normal" font-style="normal" text-anchor="middle" stroke="#000" stroke-width="0.5">Ct</text>
<line x1="659.80" y1="417.40" x2="659.80" y2="420.40" stroke="#1a1a1a" stroke-width="1.25" />
<text x="659.80" y="431.60" font-size="10.5" font-weight="bold" font-style="italic" text-anchor="middle" >If</text>
<text x="642.50" y="316.55" font-size="14.3" font-weight="bold" font-style="normal" text-anchor="middle" stroke="#000" stroke-width="0.3">PPO3</text>
<text transform="translate(578.00,366.08) rotate(-90)" font-size="11.25" font-weight="normal" text-anchor="middle" stroke="#000" stroke-width="0.45">Relative expression</text>
<line x1="711.00" y1="316.43" x2="711.00" y2="418.02" stroke="#1a1a1a" stroke-width="1.25" />
<line x1="708.20" y1="417.40" x2="711.00" y2="417.40" stroke="#1a1a1a" stroke-width="1.25" />
<text transform="translate(707.50,420.94) rotate(0.03) scale(0.97,1.0)" font-size="9.6" font-weight="bold" font-style="normal" text-anchor="end" stroke="#000" stroke-width="0.22">0.0</text>
<line x1="708.20" y1="392.31" x2="711.00" y2="392.31" stroke="#1a1a1a" stroke-width="1.25" />
<text transform="translate(707.50,395.85) rotate(0.03) scale(0.97,1.0)" font-size="9.6" font-weight="bold" font-style="normal" text-anchor="end" stroke="#000" stroke-width="0.22">0.5</text>
<line x1="708.20" y1="367.23" x2="711.00" y2="367.23" stroke="#1a1a1a" stroke-width="1.25" />
<text transform="translate(707.50,370.76) rotate(0.03) scale(0.97,1.0)" font-size="9.6" font-weight="bold" font-style="normal" text-anchor="end" stroke="#000" stroke-width="0.22">1.0</text>
<line x1="708.20" y1="342.14" x2="711.00" y2="342.14" stroke="#1a1a1a" stroke-width="1.25" />
<text transform="translate(707.50,345.67) rotate(0.03) scale(0.97,1.0)" font-size="9.6" font-weight="bold" font-style="normal" text-anchor="end" stroke="#000" stroke-width="0.22">1.5</text>
<line x1="708.20" y1="317.05" x2="711.00" y2="317.05" stroke="#1a1a1a" stroke-width="1.25" />
<text transform="translate(707.50,320.59) rotate(0.03) scale(0.97,1.0)" font-size="9.6" font-weight="bold" font-style="normal" text-anchor="end" stroke="#000" stroke-width="0.22">2.0</text>
<line x1="711.80" y1="367.68" x2="797.00" y2="367.68" stroke="#000" stroke-width="1.15" stroke-dasharray="2.4 1.9"/>
<line x1="735.45" y1="362.21" x2="735.45" y2="365.97" stroke="#111" stroke-width="1.2" />
<line x1="729.75" y1="362.21" x2="741.15" y2="362.21" stroke="#111" stroke-width="1.2" />
<rect x="723.80" y="366.57" width="23.30" height="50.83" fill="#000" stroke="#000" stroke-width="1.2"/>
<line x1="772.00" y1="359.95" x2="772.00" y2="366.82" stroke="#111" stroke-width="1.2" />
<line x1="766.30" y1="359.95" x2="777.70" y2="359.95" stroke="#111" stroke-width="1.2" />
<rect x="760.80" y="367.42" width="22.40" height="49.98" fill="#9b0000" stroke="#000" stroke-width="1.2"/>
<line x1="710.38" y1="417.40" x2="796.50" y2="417.40" stroke="#1a1a1a" stroke-width="1.25" />
<line x1="735.45" y1="417.40" x2="735.45" y2="420.40" stroke="#1a1a1a" stroke-width="1.25" />
<text x="734.85" y="431.60" font-size="10.6" font-weight="normal" font-style="normal" text-anchor="middle" stroke="#000" stroke-width="0.5">Ct</text>
<line x1="772.00" y1="417.40" x2="772.00" y2="420.40" stroke="#1a1a1a" stroke-width="1.25" />
<text x="772.00" y="431.60" font-size="10.5" font-weight="bold" font-style="italic" text-anchor="middle" >If</text>
<text x="752.30" y="316.55" font-size="14.3" font-weight="bold" font-style="normal" text-anchor="middle" stroke="#000" stroke-width="0.3">PPO5</text>
<text x="2.00" y="454.25" font-size="22" font-weight="bold" font-style="normal" text-anchor="start" >g</text>
<line x1="51.25" y1="453.02" x2="51.25" y2="553.77" stroke="#1a1a1a" stroke-width="1.25" />
<line x1="48.45" y1="553.15" x2="51.25" y2="553.15" stroke="#1a1a1a" stroke-width="1.25" />
<text transform="translate(47.75,556.69) rotate(0.03) scale(0.97,1.0)" font-size="9.6" font-weight="bold" font-style="normal" text-anchor="end" stroke="#000" stroke-width="0.22">0.0</text>
<line x1="48.45" y1="528.27" x2="51.25" y2="528.27" stroke="#1a1a1a" stroke-width="1.25" />
<text transform="translate(47.75,531.81) rotate(0.03) scale(0.97,1.0)" font-size="9.6" font-weight="bold" font-style="normal" text-anchor="end" stroke="#000" stroke-width="0.22">0.5</text>
<line x1="48.45" y1="503.40" x2="51.25" y2="503.40" stroke="#1a1a1a" stroke-width="1.25" />
<text transform="translate(47.75,506.94) rotate(0.03) scale(0.97,1.0)" font-size="9.6" font-weight="bold" font-style="normal" text-anchor="end" stroke="#000" stroke-width="0.22">1.0</text>
<line x1="48.45" y1="478.52" x2="51.25" y2="478.52" stroke="#1a1a1a" stroke-width="1.25" />
<text transform="translate(47.75,482.06) rotate(0.03) scale(0.97,1.0)" font-size="9.6" font-weight="bold" font-style="normal" text-anchor="end" stroke="#000" stroke-width="0.22">1.5</text>
<line x1="48.45" y1="453.65" x2="51.25" y2="453.65" stroke="#1a1a1a" stroke-width="1.25" />
<text transform="translate(47.75,457.19) rotate(0.03) scale(0.97,1.0)" font-size="9.6" font-weight="bold" font-style="normal" text-anchor="end" stroke="#000" stroke-width="0.22">2.0</text>
<line x1="50.62" y1="553.15" x2="151.00" y2="553.15" stroke="#1a1a1a" stroke-width="1.25" />
<line x1="78.90" y1="553.15" x2="78.90" y2="556.15" stroke="#1a1a1a" stroke-width="1.25" />
<text x="78.30" y="567.35" font-size="10.6" font-weight="normal" font-style="normal" text-anchor="middle" stroke="#000" stroke-width="0.5">Ct</text>
<line x1="121.20" y1="553.15" x2="121.20" y2="556.15" stroke="#1a1a1a" stroke-width="1.25" />
<text x="121.20" y="567.35" font-size="10.5" font-weight="bold" font-style="italic" text-anchor="middle" >Ia</text>
<text transform="translate(27.80,503.10) rotate(-90)" font-size="11.6" font-weight="normal" text-anchor="middle" stroke="#000" stroke-width="0.28">PO Activity (Vmax)</text>
<g fill="#000" fill-opacity="0.55">
<circle cx="79.10" cy="471.76" r="3.2"/>
<circle cx="83.90" cy="483.85" r="3.2"/>
<circle cx="74.60" cy="488.77" r="3.2"/>
<circle cx="69.40" cy="505.54" r="3.2"/>
<circle cx="74.10" cy="510.07" r="3.2"/>
<circle cx="79.10" cy="510.37" r="3.2"/>
<circle cx="84.10" cy="508.03" r="3.2"/>
<circle cx="89.10" cy="504.49" r="3.2"/>
<circle cx="78.90" cy="524.94" r="3.2"/>
<circle cx="76.84" cy="523.27" r="3.2"/>
<circle cx="81.08" cy="523.27" r="3.2"/>
<circle cx="74.78" cy="521.60" r="3.2"/>
<circle cx="83.26" cy="521.60" r="3.2"/>
<circle cx="72.72" cy="519.93" r="3.2"/>
<circle cx="85.44" cy="519.93" r="3.2"/>
<circle cx="70.66" cy="518.26" r="3.2"/>
<circle cx="87.62" cy="518.26" r="3.2"/>
<circle cx="68.60" cy="516.58" r="3.2"/>
<circle cx="89.80" cy="516.58" r="3.2"/>
<circle cx="70.90" cy="525.64" r="3.2"/>
<circle cx="87.50" cy="525.64" r="3.2"/>
<circle cx="73.30" cy="527.28" r="3.2"/>
<circle cx="84.80" cy="527.28" r="3.2"/>
<circle cx="75.60" cy="528.82" r="3.2"/>
<circle cx="82.40" cy="528.82" r="3.2"/>
<circle cx="78.90" cy="533.85" r="3.2"/>
<circle cx="77.34" cy="533.32" r="3.2"/>
<circle cx="80.50" cy="533.32" r="3.2"/>
<circle cx="75.79" cy="532.80" r="3.2"/>
<circle cx="82.10" cy="532.80" r="3.2"/>
<circle cx="74.23" cy="532.27" r="3.2"/>
<circle cx="83.70" cy="532.27" r="3.2"/>
<circle cx="72.67" cy="531.74" r="3.2"/>
<circle cx="85.30" cy="531.74" r="3.2"/>
<circle cx="71.11" cy="531.22" r="3.2"/>
<circle cx="86.90" cy="531.22" r="3.2"/>
<circle cx="69.56" cy="530.69" r="3.2"/>
<circle cx="88.50" cy="530.69" r="3.2"/>
<circle cx="68.00" cy="530.17" r="3.2"/>
<circle cx="90.10" cy="530.17" r="3.2"/>
<circle cx="78.90" cy="544.44" r="3.2"/>
<circle cx="77.44" cy="543.31" r="3.2"/>
<circle cx="80.36" cy="543.31" r="3.2"/>
<circle cx="75.99" cy="542.17" r="3.2"/>
<circle cx="81.81" cy="542.17" r="3.2"/>
<circle cx="74.53" cy="541.03" r="3.2"/>
<circle cx="83.27" cy="541.03" r="3.2"/>
<circle cx="73.07" cy="539.90" r="3.2"/>
<circle cx="84.73" cy="539.90" r="3.2"/>
<circle cx="71.61" cy="538.76" r="3.2"/>
<circle cx="86.19" cy="538.76" r="3.2"/>
<circle cx="70.16" cy="537.62" r="3.2"/>
<circle cx="87.64" cy="537.62" r="3.2"/>
<circle cx="68.70" cy="536.48" r="3.2"/>
<circle cx="89.10" cy="536.48" r="3.2"/>
</g>
<g fill="#aa00dc" fill-opacity="0.58">
<circle cx="112.10" cy="515.09" r="3.2"/>
<circle cx="121.10" cy="515.69" r="3.2"/>
<circle cx="130.10" cy="515.69" r="3.2"/>
<circle cx="116.60" cy="521.31" r="3.2"/>
<circle cx="125.60" cy="524.99" r="3.2"/>
<circle cx="110.50" cy="545.89" r="3.2"/>
<circle cx="131.60" cy="544.69" r="3.2"/>
<circle cx="124.60" cy="549.67" r="3.2"/>
<circle cx="117.70" cy="553.15" r="3.2"/>
<circle cx="121.20" cy="535.49" r="3.2"/>
<circle cx="119.18" cy="533.62" r="3.2"/>
<circle cx="123.16" cy="533.62" r="3.2"/>
<circle cx="117.16" cy="531.75" r="3.2"/>
<circle cx="125.12" cy="531.75" r="3.2"/>
<circle cx="115.14" cy="529.88" r="3.2"/>
<circle cx="127.08" cy="529.88" r="3.2"/>
<circle cx="113.12" cy="528.01" r="3.2"/>
<circle cx="129.04" cy="528.01" r="3.2"/>
<circle cx="111.10" cy="526.14" r="3.2"/>
<circle cx="131.00" cy="526.14" r="3.2"/>
<circle cx="116.20" cy="536.11" r="3.2"/>
<circle cx="126.20" cy="536.11" r="3.2"/>
<circle cx="114.53" cy="535.41" r="3.2"/>
<circle cx="127.87" cy="535.41" r="3.2"/>
<circle cx="112.87" cy="534.70" r="3.2"/>
<circle cx="129.53" cy="534.70" r="3.2"/>
<circle cx="111.20" cy="534.00" r="3.2"/>
<circle cx="131.20" cy="534.00" r="3.2"/>
<circle cx="121.20" cy="543.50" r="3.2"/>
<circle cx="119.45" cy="542.62" r="3.2"/>
<circle cx="122.95" cy="542.62" r="3.2"/>
<circle cx="117.70" cy="541.74" r="3.2"/>
<circle cx="124.70" cy="541.74" r="3.2"/>
<circle cx="115.95" cy="540.86" r="3.2"/>
<circle cx="126.45" cy="540.86" r="3.2"/>
<circle cx="114.20" cy="539.98" r="3.2"/>
<circle cx="128.20" cy="539.98" r="3.2"/>
<circle cx="112.45" cy="539.10" r="3.2"/>
<circle cx="129.95" cy="539.10" r="3.2"/>
<circle cx="110.70" cy="538.23" r="3.2"/>
<circle cx="131.70" cy="538.23" r="3.2"/>
</g>
<line x1="64.40" y1="531.01" x2="93.40" y2="531.01" stroke="#000" stroke-width="1.3" />
<line x1="106.70" y1="537.38" x2="135.70" y2="537.38" stroke="#000" stroke-width="1.3" />
<text x="121.60" y="488.14" font-size="19" font-weight="bold" font-style="normal" text-anchor="middle" letter-spacing="0">**</text>
<line x1="193.70" y1="452.88" x2="193.70" y2="554.62" stroke="#1a1a1a" stroke-width="1.25" />
<line x1="190.90" y1="554.00" x2="193.70" y2="554.00" stroke="#1a1a1a" stroke-width="1.25" />
<text transform="translate(190.20,557.54) rotate(0.03) scale(0.97,1.0)" font-size="9.6" font-weight="bold" font-style="normal" text-anchor="end" stroke="#000" stroke-width="0.22">0.0</text>
<line x1="190.90" y1="528.88" x2="193.70" y2="528.88" stroke="#1a1a1a" stroke-width="1.25" />
<text transform="translate(190.20,532.41) rotate(0.03) scale(0.97,1.0)" font-size="9.6" font-weight="bold" font-style="normal" text-anchor="end" stroke="#000" stroke-width="0.22">0.5</text>
<line x1="190.90" y1="503.75" x2="193.70" y2="503.75" stroke="#1a1a1a" stroke-width="1.25" />
<text transform="translate(190.20,507.29) rotate(0.03) scale(0.97,1.0)" font-size="9.6" font-weight="bold" font-style="normal" text-anchor="end" stroke="#000" stroke-width="0.22">1.0</text>
<line x1="190.90" y1="478.62" x2="193.70" y2="478.62" stroke="#1a1a1a" stroke-width="1.25" />
<text transform="translate(190.20,482.16) rotate(0.03) scale(0.97,1.0)" font-size="9.6" font-weight="bold" font-style="normal" text-anchor="end" stroke="#000" stroke-width="0.22">1.5</text>
<line x1="190.90" y1="453.50" x2="193.70" y2="453.50" stroke="#1a1a1a" stroke-width="1.25" />
<text transform="translate(190.20,457.04) rotate(0.03) scale(0.97,1.0)" font-size="9.6" font-weight="bold" font-style="normal" text-anchor="end" stroke="#000" stroke-width="0.22">2.0</text>
<line x1="195.30" y1="504.70" x2="278.70" y2="504.70" stroke="#000" stroke-width="1.45" stroke-linecap="round" stroke-dasharray="0.01 3.84"/>
<line x1="217.60" y1="497.22" x2="217.60" y2="501.84" stroke="#111" stroke-width="1.2" />
<line x1="211.90" y1="497.22" x2="223.30" y2="497.22" stroke="#111" stroke-width="1.2" />
<rect x="206.30" y="502.44" width="22.60" height="51.56" fill="#000" stroke="#000" stroke-width="1.2"/>
<line x1="254.05" y1="492.75" x2="254.05" y2="505.11" stroke="#111" stroke-width="1.2" />
<line x1="248.35" y1="492.75" x2="259.75" y2="492.75" stroke="#111" stroke-width="1.2" />
<rect x="242.80" y="505.71" width="22.50" height="48.29" fill="#9b0000" stroke="#000" stroke-width="1.2"/>
<line x1="193.08" y1="554.00" x2="278.20" y2="554.00" stroke="#1a1a1a" stroke-width="1.25" />
<line x1="217.60" y1="554.00" x2="217.60" y2="557.00" stroke="#1a1a1a" stroke-width="1.25" />
<text x="217.00" y="568.20" font-size="10.6" font-weight="normal" font-style="normal" text-anchor="middle" stroke="#000" stroke-width="0.5">Ct</text>
<line x1="254.05" y1="554.00" x2="254.05" y2="557.00" stroke="#1a1a1a" stroke-width="1.25" />
<text x="254.05" y="568.20" font-size="10.5" font-weight="bold" font-style="italic" text-anchor="middle" >Ia</text>
<text x="237.90" y="453.00" font-size="14.3" font-weight="bold" font-style="normal" text-anchor="middle" stroke="#000" stroke-width="0.3">PPO3</text>
<text transform="translate(171.40,502.60) rotate(-90)" font-size="11.25" font-weight="normal" text-anchor="middle" stroke="#000" stroke-width="0.28">Relative expression</text>
<line x1="303.60" y1="452.88" x2="303.60" y2="554.62" stroke="#1a1a1a" stroke-width="1.25" />
<line x1="300.80" y1="554.00" x2="303.60" y2="554.00" stroke="#1a1a1a" stroke-width="1.25" />
<text transform="translate(300.10,557.54) rotate(0.03) scale(0.97,1.0)" font-size="9.6" font-weight="bold" font-style="normal" text-anchor="end" stroke="#000" stroke-width="0.22">0.0</text>
<line x1="300.80" y1="528.88" x2="303.60" y2="528.88" stroke="#1a1a1a" stroke-width="1.25" />
<text transform="translate(300.10,532.41) rotate(0.03) scale(0.97,1.0)" font-size="9.6" font-weight="bold" font-style="normal" text-anchor="end" stroke="#000" stroke-width="0.22">0.5</text>
<line x1="300.80" y1="503.75" x2="303.60" y2="503.75" stroke="#1a1a1a" stroke-width="1.25" />
<text transform="translate(300.10,507.29) rotate(0.03) scale(0.97,1.0)" font-size="9.6" font-weight="bold" font-style="normal" text-anchor="end" stroke="#000" stroke-width="0.22">1.0</text>
<line x1="300.80" y1="478.62" x2="303.60" y2="478.62" stroke="#1a1a1a" stroke-width="1.25" />
<text transform="translate(300.10,482.16) rotate(0.03) scale(0.97,1.0)" font-size="9.6" font-weight="bold" font-style="normal" text-anchor="end" stroke="#000" stroke-width="0.22">1.5</text>
<line x1="300.80" y1="453.50" x2="303.60" y2="453.50" stroke="#1a1a1a" stroke-width="1.25" />
<text transform="translate(300.10,457.04) rotate(0.03) scale(0.97,1.0)" font-size="9.6" font-weight="bold" font-style="normal" text-anchor="end" stroke="#000" stroke-width="0.22">2.0</text>
<line x1="305.20" y1="504.70" x2="389.30" y2="504.70" stroke="#000" stroke-width="1.45" stroke-linecap="round" stroke-dasharray="0.01 3.84"/>
<line x1="328.15" y1="497.97" x2="328.15" y2="502.39" stroke="#111" stroke-width="1.2" />
<line x1="322.45" y1="497.97" x2="333.85" y2="497.97" stroke="#111" stroke-width="1.2" />
<rect x="316.80" y="502.99" width="22.70" height="51.01" fill="#000" stroke="#000" stroke-width="1.2"/>
<line x1="364.20" y1="511.19" x2="364.20" y2="518.32" stroke="#111" stroke-width="1.2" />
<line x1="358.50" y1="511.19" x2="369.90" y2="511.19" stroke="#111" stroke-width="1.2" />
<rect x="353.00" y="518.92" width="22.40" height="35.08" fill="#9b0000" stroke="#000" stroke-width="1.2"/>
<line x1="302.98" y1="554.00" x2="388.80" y2="554.00" stroke="#1a1a1a" stroke-width="1.25" />
<line x1="328.15" y1="554.00" x2="328.15" y2="557.00" stroke="#1a1a1a" stroke-width="1.25" />
<text x="327.55" y="568.20" font-size="10.6" font-weight="normal" font-style="normal" text-anchor="middle" stroke="#000" stroke-width="0.5">Ct</text>
<line x1="364.20" y1="554.00" x2="364.20" y2="557.00" stroke="#1a1a1a" stroke-width="1.25" />
<text x="364.20" y="568.20" font-size="10.5" font-weight="bold" font-style="italic" text-anchor="middle" >Ia</text>
<text x="347.80" y="453.00" font-size="14.3" font-weight="bold" font-style="normal" text-anchor="middle" stroke="#000" stroke-width="0.3">PPO5</text>
<text x="364.30" y="503.04" font-size="19" font-weight="bold" font-style="normal" text-anchor="middle" >*</text>
<text x="408.50" y="453.85" font-size="22" font-weight="bold" font-style="normal" text-anchor="start" >h</text>
<line x1="454.50" y1="452.62" x2="454.50" y2="553.62" stroke="#1a1a1a" stroke-width="1.25" />
<line x1="451.70" y1="553.00" x2="454.50" y2="553.00" stroke="#1a1a1a" stroke-width="1.25" />
<text transform="translate(451.00,556.54) rotate(0.03) scale(0.97,1.0)" font-size="9.6" font-weight="bold" font-style="normal" text-anchor="end" stroke="#000" stroke-width="0.22">0.0</text>
<line x1="451.70" y1="503.12" x2="454.50" y2="503.12" stroke="#1a1a1a" stroke-width="1.25" />
<text transform="translate(451.00,506.66) rotate(0.03) scale(0.97,1.0)" font-size="9.6" font-weight="bold" font-style="normal" text-anchor="end" stroke="#000" stroke-width="0.22">0.5</text>
<line x1="451.70" y1="453.25" x2="454.50" y2="453.25" stroke="#1a1a1a" stroke-width="1.25" />
<text transform="translate(451.00,456.79) rotate(0.03) scale(0.97,1.0)" font-size="9.6" font-weight="bold" font-style="normal" text-anchor="end" stroke="#000" stroke-width="0.22">1.0</text>
<line x1="453.88" y1="553.00" x2="555.50" y2="553.00" stroke="#1a1a1a" stroke-width="1.25" />
<line x1="482.40" y1="553.00" x2="482.40" y2="556.00" stroke="#1a1a1a" stroke-width="1.25" />
<text x="481.80" y="567.20" font-size="10.6" font-weight="normal" font-style="normal" text-anchor="middle" stroke="#000" stroke-width="0.5">Ct</text>
<line x1="524.50" y1="553.00" x2="524.50" y2="556.00" stroke="#1a1a1a" stroke-width="1.25" />
<text x="524.50" y="567.20" font-size="10.5" font-weight="bold" font-style="italic" text-anchor="middle" >Ia</text>
<text transform="translate(432.00,502.82) rotate(-90)" font-size="11.6" font-weight="normal" text-anchor="middle" stroke="#000" stroke-width="0.45">PO Activity (Vmax)</text>
<g fill="#000" fill-opacity="0.55">
<circle cx="482.65" cy="474.30" r="3.2"/>
<circle cx="491.80" cy="476.59" r="3.2"/>
<circle cx="473.65" cy="481.68" r="3.2"/>
<circle cx="482.65" cy="484.27" r="3.2"/>
<circle cx="473.65" cy="493.95" r="3.2"/>
<circle cx="491.80" cy="496.64" r="3.2"/>
<circle cx="482.65" cy="498.54" r="3.2"/>
<circle cx="478.30" cy="509.61" r="3.2"/>
<circle cx="486.80" cy="510.41" r="3.2"/>
<circle cx="475.15" cy="512.70" r="3.2"/>
<circle cx="490.15" cy="514.60" r="3.2"/>
<circle cx="480.15" cy="515.19" r="3.2"/>
<circle cx="485.15" cy="515.59" r="3.2"/>
<circle cx="471.80" cy="521.48" r="3.2"/>
<circle cx="493.40" cy="520.88" r="3.2"/>
<circle cx="474.30" cy="523.37" r="3.2"/>
<circle cx="490.50" cy="523.08" r="3.2"/>
<circle cx="476.80" cy="525.17" r="3.2"/>
<circle cx="488.00" cy="524.97" r="3.2"/>
<circle cx="479.30" cy="527.07" r="3.2"/>
<circle cx="485.50" cy="526.87" r="3.2"/>
<circle cx="481.80" cy="528.76" r="3.2"/>
<circle cx="477.40" cy="519.58" r="3.2"/>
<circle cx="482.60" cy="519.09" r="3.2"/>
<circle cx="487.40" cy="519.58" r="3.2"/>
<circle cx="482.50" cy="523.08" r="3.2"/>
<circle cx="472.65" cy="533.05" r="3.2"/>
<circle cx="492.65" cy="532.45" r="3.2"/>
<circle cx="487.65" cy="533.75" r="3.2"/>
<circle cx="477.65" cy="536.24" r="3.2"/>
<circle cx="482.65" cy="537.44" r="3.2"/>
<circle cx="482.65" cy="548.71" r="3.2"/>
</g>
<g fill="#aa00dc" fill-opacity="0.58">
<circle cx="524.70" cy="509.11" r="3.2"/>
<circle cx="534.00" cy="512.80" r="3.2"/>
<circle cx="519.90" cy="525.47" r="3.2"/>
<circle cx="531.60" cy="526.67" r="3.2"/>
<circle cx="515.20" cy="528.76" r="3.2"/>
<circle cx="527.00" cy="528.36" r="3.2"/>
<circle cx="534.90" cy="531.25" r="3.2"/>
<circle cx="514.10" cy="547.01" r="3.2"/>
<circle cx="521.20" cy="550.21" r="3.2"/>
<circle cx="528.10" cy="548.11" r="3.2"/>
<circle cx="535.30" cy="546.62" r="3.2"/>
<circle cx="524.50" cy="521.68" r="3.2"/>
<circle cx="522.93" cy="520.68" r="3.2"/>
<circle cx="525.88" cy="520.68" r="3.2"/>
<circle cx="521.37" cy="519.68" r="3.2"/>
<circle cx="527.27" cy="519.68" r="3.2"/>
<circle cx="519.80" cy="518.69" r="3.2"/>
<circle cx="528.65" cy="518.69" r="3.2"/>
<circle cx="518.23" cy="517.69" r="3.2"/>
<circle cx="530.03" cy="517.69" r="3.2"/>
<circle cx="516.67" cy="516.69" r="3.2"/>
<circle cx="531.42" cy="516.69" r="3.2"/>
<circle cx="515.10" cy="515.69" r="3.2"/>
<circle cx="532.80" cy="515.69" r="3.2"/>
<circle cx="524.50" cy="541.23" r="3.2"/>
<circle cx="522.83" cy="539.67" r="3.2"/>
<circle cx="526.23" cy="539.67" r="3.2"/>
<circle cx="521.17" cy="538.10" r="3.2"/>
<circle cx="527.97" cy="538.10" r="3.2"/>
<circle cx="519.50" cy="536.54" r="3.2"/>
<circle cx="529.70" cy="536.54" r="3.2"/>
<circle cx="517.83" cy="534.98" r="3.2"/>
<circle cx="531.43" cy="534.98" r="3.2"/>
<circle cx="516.17" cy="533.42" r="3.2"/>
<circle cx="533.17" cy="533.42" r="3.2"/>
<circle cx="514.50" cy="531.85" r="3.2"/>
<circle cx="534.90" cy="531.85" r="3.2"/>
</g>
<line x1="467.90" y1="521.28" x2="496.90" y2="521.28" stroke="#000" stroke-width="1.3" />
<line x1="510.00" y1="530.16" x2="539.00" y2="530.16" stroke="#000" stroke-width="1.3" />
<text x="524.60" y="493.24" font-size="19" font-weight="bold" font-style="normal" text-anchor="middle" letter-spacing="0">**</text>
<line x1="600.20" y1="452.98" x2="600.20" y2="554.33" stroke="#1a1a1a" stroke-width="1.25" />
<line x1="597.40" y1="553.70" x2="600.20" y2="553.70" stroke="#1a1a1a" stroke-width="1.25" />
<text transform="translate(596.70,557.24) rotate(0.03) scale(0.97,1.0)" font-size="9.6" font-weight="bold" font-style="normal" text-anchor="end" stroke="#000" stroke-width="0.22">0.0</text>
<line x1="597.40" y1="528.68" x2="600.20" y2="528.68" stroke="#1a1a1a" stroke-width="1.25" />
<text transform="translate(596.70,532.21) rotate(0.03) scale(0.97,1.0)" font-size="9.6" font-weight="bold" font-style="normal" text-anchor="end" stroke="#000" stroke-width="0.22">0.5</text>
<line x1="597.40" y1="503.65" x2="600.20" y2="503.65" stroke="#1a1a1a" stroke-width="1.25" />
<text transform="translate(596.70,507.19) rotate(0.03) scale(0.97,1.0)" font-size="9.6" font-weight="bold" font-style="normal" text-anchor="end" stroke="#000" stroke-width="0.22">1.0</text>
<line x1="597.40" y1="478.62" x2="600.20" y2="478.62" stroke="#1a1a1a" stroke-width="1.25" />
<text transform="translate(596.70,482.16) rotate(0.03) scale(0.97,1.0)" font-size="9.6" font-weight="bold" font-style="normal" text-anchor="end" stroke="#000" stroke-width="0.22">1.5</text>
<line x1="597.40" y1="453.60" x2="600.20" y2="453.60" stroke="#1a1a1a" stroke-width="1.25" />
<text transform="translate(596.70,457.14) rotate(0.03) scale(0.97,1.0)" font-size="9.6" font-weight="bold" font-style="normal" text-anchor="end" stroke="#000" stroke-width="0.22">2.0</text>
<line x1="601.00" y1="504.10" x2="684.50" y2="504.10" stroke="#000" stroke-width="1.15" stroke-dasharray="2.4 1.9"/>
<line x1="623.65" y1="495.39" x2="623.65" y2="501.45" stroke="#111" stroke-width="1.2" />
<line x1="617.95" y1="495.39" x2="629.35" y2="495.39" stroke="#111" stroke-width="1.2" />
<rect x="612.40" y="502.05" width="22.50" height="51.65" fill="#000" stroke="#000" stroke-width="1.2"/>
<line x1="659.80" y1="502.00" x2="659.80" y2="506.40" stroke="#111" stroke-width="1.2" />
<line x1="654.10" y1="502.00" x2="665.50" y2="502.00" stroke="#111" stroke-width="1.2" />
<rect x="648.90" y="507.00" width="21.80" height="46.70" fill="#9b0000" stroke="#000" stroke-width="1.2"/>
<line x1="599.58" y1="553.70" x2="684.00" y2="553.70" stroke="#1a1a1a" stroke-width="1.25" />
<line x1="623.65" y1="553.70" x2="623.65" y2="556.70" stroke="#1a1a1a" stroke-width="1.25" />
<text x="623.05" y="567.90" font-size="10.6" font-weight="normal" font-style="normal" text-anchor="middle" stroke="#000" stroke-width="0.5">Ct</text>
<line x1="659.80" y1="553.70" x2="659.80" y2="556.70" stroke="#1a1a1a" stroke-width="1.25" />
<text x="659.80" y="567.90" font-size="10.5" font-weight="bold" font-style="italic" text-anchor="middle" >Ia</text>
<text x="642.50" y="453.10" font-size="14.3" font-weight="bold" font-style="normal" text-anchor="middle" stroke="#000" stroke-width="0.3">PPO3</text>
<text transform="translate(578.00,502.50) rotate(-90)" font-size="11.25" font-weight="normal" text-anchor="middle" stroke="#000" stroke-width="0.45">Relative expression</text>
<line x1="711.00" y1="452.98" x2="711.00" y2="554.33" stroke="#1a1a1a" stroke-width="1.25" />
<line x1="708.20" y1="553.70" x2="711.00" y2="553.70" stroke="#1a1a1a" stroke-width="1.25" />
<text transform="translate(707.50,557.24) rotate(0.03) scale(0.97,1.0)" font-size="9.6" font-weight="bold" font-style="normal" text-anchor="end" stroke="#000" stroke-width="0.22">0.0</text>
<line x1="708.20" y1="528.68" x2="711.00" y2="528.68" stroke="#1a1a1a" stroke-width="1.25" />
<text transform="translate(707.50,532.21) rotate(0.03) scale(0.97,1.0)" font-size="9.6" font-weight="bold" font-style="normal" text-anchor="end" stroke="#000" stroke-width="0.22">0.5</text>
<line x1="708.20" y1="503.65" x2="711.00" y2="503.65" stroke="#1a1a1a" stroke-width="1.25" />
<text transform="translate(707.50,507.19) rotate(0.03) scale(0.97,1.0)" font-size="9.6" font-weight="bold" font-style="normal" text-anchor="end" stroke="#000" stroke-width="0.22">1.0</text>
<line x1="708.20" y1="478.62" x2="711.00" y2="478.62" stroke="#1a1a1a" stroke-width="1.25" />
<text transform="translate(707.50,482.16) rotate(0.03) scale(0.97,1.0)" font-size="9.6" font-weight="bold" font-style="normal" text-anchor="end" stroke="#000" stroke-width="0.22">1.5</text>
<line x1="708.20" y1="453.60" x2="711.00" y2="453.60" stroke="#1a1a1a" stroke-width="1.25" />
<text transform="translate(707.50,457.14) rotate(0.03) scale(0.97,1.0)" font-size="9.6" font-weight="bold" font-style="normal" text-anchor="end" stroke="#000" stroke-width="0.22">2.0</text>
<line x1="711.80" y1="504.10" x2="797.00" y2="504.10" stroke="#000" stroke-width="1.15" stroke-dasharray="2.4 1.9"/>
<line x1="735.45" y1="499.00" x2="735.45" y2="502.85" stroke="#111" stroke-width="1.2" />
<line x1="729.75" y1="499.00" x2="741.15" y2="499.00" stroke="#111" stroke-width="1.2" />
<rect x="723.80" y="503.45" width="23.30" height="50.25" fill="#000" stroke="#000" stroke-width="1.2"/>
<line x1="772.00" y1="483.83" x2="772.00" y2="495.14" stroke="#111" stroke-width="1.2" />
<line x1="766.30" y1="483.83" x2="777.70" y2="483.83" stroke="#111" stroke-width="1.2" />
<rect x="760.80" y="495.74" width="22.40" height="57.96" fill="#9b0000" stroke="#000" stroke-width="1.2"/>
<line x1="710.38" y1="553.70" x2="796.50" y2="553.70" stroke="#1a1a1a" stroke-width="1.25" />
<line x1="735.45" y1="553.70" x2="735.45" y2="556.70" stroke="#1a1a1a" stroke-width="1.25" />
<text x="734.85" y="567.90" font-size="10.6" font-weight="normal" font-style="normal" text-anchor="middle" stroke="#000" stroke-width="0.5">Ct</text>
<line x1="772.00" y1="553.70" x2="772.00" y2="556.70" stroke="#1a1a1a" stroke-width="1.25" />
<text x="772.00" y="567.90" font-size="10.5" font-weight="bold" font-style="italic" text-anchor="middle" >Ia</text>
<text x="752.30" y="453.10" font-size="14.3" font-weight="bold" font-style="normal" text-anchor="middle" stroke="#000" stroke-width="0.3">PPO5</text>
<text x="2.00" y="590.00" font-size="22" font-weight="bold" font-style="normal" text-anchor="start" >i</text>
<line x1="51.25" y1="588.77" x2="51.25" y2="690.52" stroke="#1a1a1a" stroke-width="1.25" />
<line x1="48.45" y1="689.90" x2="51.25" y2="689.90" stroke="#1a1a1a" stroke-width="1.25" />
<text transform="translate(47.75,693.44) rotate(0.03) scale(0.97,1.0)" font-size="9.6" font-weight="bold" font-style="normal" text-anchor="end" stroke="#000" stroke-width="0.22">0.0</text>
<line x1="48.45" y1="669.80" x2="51.25" y2="669.80" stroke="#1a1a1a" stroke-width="1.25" />
<text transform="translate(47.75,673.34) rotate(0.03) scale(0.97,1.0)" font-size="9.6" font-weight="bold" font-style="normal" text-anchor="end" stroke="#000" stroke-width="0.22">0.5</text>
<line x1="48.45" y1="649.70" x2="51.25" y2="649.70" stroke="#1a1a1a" stroke-width="1.25" />
<text transform="translate(47.75,653.24) rotate(0.03) scale(0.97,1.0)" font-size="9.6" font-weight="bold" font-style="normal" text-anchor="end" stroke="#000" stroke-width="0.22">1.0</text>
<line x1="48.45" y1="629.60" x2="51.25" y2="629.60" stroke="#1a1a1a" stroke-width="1.25" />
<text transform="translate(47.75,633.14) rotate(0.03) scale(0.97,1.0)" font-size="9.6" font-weight="bold" font-style="normal" text-anchor="end" stroke="#000" stroke-width="0.22">1.5</text>
<line x1="48.45" y1="609.50" x2="51.25" y2="609.50" stroke="#1a1a1a" stroke-width="1.25" />
<text transform="translate(47.75,613.04) rotate(0.03) scale(0.97,1.0)" font-size="9.6" font-weight="bold" font-style="normal" text-anchor="end" stroke="#000" stroke-width="0.22">2.0</text>
<line x1="48.45" y1="589.40" x2="51.25" y2="589.40" stroke="#1a1a1a" stroke-width="1.25" />
<text transform="translate(47.75,592.94) rotate(0.03) scale(0.97,1.0)" font-size="9.6" font-weight="bold" font-style="normal" text-anchor="end" stroke="#000" stroke-width="0.22">2.5</text>
<line x1="50.62" y1="689.90" x2="151.00" y2="689.90" stroke="#1a1a1a" stroke-width="1.25" />
<line x1="78.90" y1="689.90" x2="78.90" y2="692.90" stroke="#1a1a1a" stroke-width="1.25" />
<text x="78.30" y="704.10" font-size="10.6" font-weight="normal" font-style="normal" text-anchor="middle" stroke="#000" stroke-width="0.5">Ct</text>
<line x1="122.10" y1="689.90" x2="122.10" y2="692.90" stroke="#1a1a1a" stroke-width="1.25" />
<text x="122.10" y="704.10" font-size="10.5" font-weight="bold" font-style="italic" text-anchor="middle" >Iam</text>
<text transform="translate(27.80,639.35) rotate(-90)" font-size="11.6" font-weight="normal" text-anchor="middle" stroke="#000" stroke-width="0.28">PO Activity (Vmax)</text>
<g fill="#000" fill-opacity="0.55">
<circle cx="79.10" cy="624.49" r="3.2"/>
<circle cx="83.60" cy="634.42" r="3.2"/>
<circle cx="74.80" cy="638.04" r="3.2"/>
<circle cx="70.10" cy="651.51" r="3.2"/>
<circle cx="88.20" cy="650.83" r="3.2"/>
<circle cx="79.10" cy="653.88" r="3.2"/>
<circle cx="68.90" cy="655.57" r="3.2"/>
<circle cx="89.30" cy="655.77" r="3.2"/>
<circle cx="72.00" cy="660.31" r="3.2"/>
<circle cx="74.80" cy="662.40" r="3.2"/>
<circle cx="78.00" cy="663.81" r="3.2"/>
<circle cx="80.80" cy="663.53" r="3.2"/>
<circle cx="83.60" cy="662.40" r="3.2"/>
<circle cx="86.00" cy="661.28" r="3.2"/>
<circle cx="78.90" cy="673.42" r="3.2"/>
<circle cx="77.65" cy="672.51" r="3.2"/>
<circle cx="80.26" cy="672.51" r="3.2"/>
<circle cx="76.40" cy="671.61" r="3.2"/>
<circle cx="81.62" cy="671.61" r="3.2"/>
<circle cx="75.15" cy="670.70" r="3.2"/>
<circle cx="82.99" cy="670.70" r="3.2"/>
<circle cx="73.90" cy="669.80" r="3.2"/>
<circle cx="84.35" cy="669.80" r="3.2"/>
<circle cx="72.65" cy="668.90" r="3.2"/>
<circle cx="85.71" cy="668.90" r="3.2"/>
<circle cx="71.40" cy="667.99" r="3.2"/>
<circle cx="87.08" cy="667.99" r="3.2"/>
<circle cx="70.15" cy="667.09" r="3.2"/>
<circle cx="88.44" cy="667.09" r="3.2"/>
<circle cx="68.90" cy="666.18" r="3.2"/>
<circle cx="89.80" cy="666.18" r="3.2"/>
<circle cx="74.62" cy="674.67" r="3.2"/>
<circle cx="83.18" cy="674.67" r="3.2"/>
<circle cx="73.20" cy="674.02" r="3.2"/>
<circle cx="84.60" cy="674.02" r="3.2"/>
<circle cx="71.78" cy="673.37" r="3.2"/>
<circle cx="86.03" cy="673.37" r="3.2"/>
<circle cx="70.35" cy="672.71" r="3.2"/>
<circle cx="87.45" cy="672.71" r="3.2"/>
<circle cx="68.93" cy="672.06" r="3.2"/>
<circle cx="88.88" cy="672.06" r="3.2"/>
<circle cx="67.50" cy="671.41" r="3.2"/>
<circle cx="90.30" cy="671.41" r="3.2"/>
<circle cx="78.90" cy="682.50" r="3.2"/>
<circle cx="77.48" cy="681.77" r="3.2"/>
<circle cx="80.33" cy="681.77" r="3.2"/>
<circle cx="76.05" cy="681.04" r="3.2"/>
<circle cx="81.75" cy="681.04" r="3.2"/>
<circle cx="74.62" cy="680.30" r="3.2"/>
<circle cx="83.18" cy="680.30" r="3.2"/>
<circle cx="73.20" cy="679.57" r="3.2"/>
<circle cx="84.60" cy="679.57" r="3.2"/>
<circle cx="71.78" cy="678.83" r="3.2"/>
<circle cx="86.03" cy="678.83" r="3.2"/>
<circle cx="70.35" cy="678.10" r="3.2"/>
<circle cx="87.45" cy="678.10" r="3.2"/>
<circle cx="68.93" cy="677.37" r="3.2"/>
<circle cx="88.88" cy="677.37" r="3.2"/>
<circle cx="67.50" cy="676.63" r="3.2"/>
<circle cx="90.30" cy="676.63" r="3.2"/>
</g>
<g fill="#00c800" fill-opacity="0.6">
<circle cx="122.10" cy="603.47" r="3.2"/>
<circle cx="122.10" cy="620.76" r="3.2"/>
<circle cx="112.40" cy="633.78" r="3.2"/>
<circle cx="117.10" cy="637.24" r="3.2"/>
<circle cx="122.10" cy="641.66" r="3.2"/>
<circle cx="127.10" cy="639.37" r="3.2"/>
<circle cx="131.90" cy="635.63" r="3.2"/>
<circle cx="131.10" cy="648.21" r="3.2"/>
<circle cx="113.00" cy="651.91" r="3.2"/>
<circle cx="122.10" cy="653.72" r="3.2"/>
<circle cx="113.00" cy="667.11" r="3.2"/>
<circle cx="117.40" cy="665.90" r="3.2"/>
<circle cx="126.70" cy="664.01" r="3.2"/>
<circle cx="131.10" cy="666.50" r="3.2"/>
<circle cx="114.90" cy="669.60" r="3.2"/>
<circle cx="122.10" cy="669.00" r="3.2"/>
<circle cx="128.60" cy="667.71" r="3.2"/>
<circle cx="122.10" cy="676.63" r="3.2"/>
<circle cx="120.62" cy="676.13" r="3.2"/>
<circle cx="123.57" cy="676.13" r="3.2"/>
<circle cx="119.15" cy="675.63" r="3.2"/>
<circle cx="125.05" cy="675.63" r="3.2"/>
<circle cx="117.67" cy="675.13" r="3.2"/>
<circle cx="126.52" cy="675.13" r="3.2"/>
<circle cx="116.20" cy="674.62" r="3.2"/>
<circle cx="128.00" cy="674.62" r="3.2"/>
<circle cx="114.72" cy="674.12" r="3.2"/>
<circle cx="129.47" cy="674.12" r="3.2"/>
<circle cx="113.25" cy="673.62" r="3.2"/>
<circle cx="130.95" cy="673.62" r="3.2"/>
<circle cx="111.77" cy="673.12" r="3.2"/>
<circle cx="132.42" cy="673.12" r="3.2"/>
<circle cx="110.30" cy="672.61" r="3.2"/>
<circle cx="133.90" cy="672.61" r="3.2"/>
<circle cx="117.60" cy="676.43" r="3.2"/>
<circle cx="126.60" cy="676.43" r="3.2"/>
<circle cx="115.35" cy="675.73" r="3.2"/>
<circle cx="128.85" cy="675.73" r="3.2"/>
<circle cx="113.10" cy="675.03" r="3.2"/>
<circle cx="131.10" cy="675.03" r="3.2"/>
<circle cx="122.10" cy="685.88" r="3.2"/>
<circle cx="118.47" cy="683.99" r="3.2"/>
<circle cx="125.73" cy="683.99" r="3.2"/>
<circle cx="114.83" cy="682.10" r="3.2"/>
<circle cx="129.37" cy="682.10" r="3.2"/>
<circle cx="111.20" cy="680.21" r="3.2"/>
<circle cx="133.00" cy="680.21" r="3.2"/>
<circle cx="121.10" cy="688.29" r="3.2"/>
</g>
<line x1="64.40" y1="672.01" x2="93.40" y2="672.01" stroke="#000" stroke-width="1.3" />
<line x1="107.60" y1="674.58" x2="136.60" y2="674.58" stroke="#000" stroke-width="1.3" />
<line x1="192.90" y1="589.98" x2="192.90" y2="690.88" stroke="#1a1a1a" stroke-width="1.25" />
<line x1="190.10" y1="690.25" x2="192.90" y2="690.25" stroke="#1a1a1a" stroke-width="1.25" />
<text transform="translate(189.40,693.79) rotate(0.03) scale(0.97,1.0)" font-size="9.6" font-weight="bold" font-style="normal" text-anchor="end" stroke="#000" stroke-width="0.22">0.0</text>
<line x1="190.10" y1="665.34" x2="192.90" y2="665.34" stroke="#1a1a1a" stroke-width="1.25" />
<text transform="translate(189.40,668.87) rotate(0.03) scale(0.97,1.0)" font-size="9.6" font-weight="bold" font-style="normal" text-anchor="end" stroke="#000" stroke-width="0.22">0.5</text>
<line x1="190.10" y1="640.42" x2="192.90" y2="640.42" stroke="#1a1a1a" stroke-width="1.25" />
<text transform="translate(189.40,643.96) rotate(0.03) scale(0.97,1.0)" font-size="9.6" font-weight="bold" font-style="normal" text-anchor="end" stroke="#000" stroke-width="0.22">1.0</text>
<line x1="190.10" y1="615.51" x2="192.90" y2="615.51" stroke="#1a1a1a" stroke-width="1.25" />
<text transform="translate(189.40,619.05) rotate(0.03) scale(0.97,1.0)" font-size="9.6" font-weight="bold" font-style="normal" text-anchor="end" stroke="#000" stroke-width="0.22">1.5</text>
<line x1="190.10" y1="590.60" x2="192.90" y2="590.60" stroke="#1a1a1a" stroke-width="1.25" />
<text transform="translate(189.40,594.14) rotate(0.03) scale(0.97,1.0)" font-size="9.6" font-weight="bold" font-style="normal" text-anchor="end" stroke="#000" stroke-width="0.22">2.0</text>
<line x1="194.50" y1="641.38" x2="277.90" y2="641.38" stroke="#000" stroke-width="1.45" stroke-linecap="round" stroke-dasharray="0.01 3.84"/>
<line x1="216.80" y1="633.45" x2="216.80" y2="638.43" stroke="#111" stroke-width="1.2" />
<line x1="211.10" y1="633.45" x2="222.50" y2="633.45" stroke="#111" stroke-width="1.2" />
<rect x="205.50" y="639.03" width="22.60" height="51.22" fill="#000" stroke="#000" stroke-width="1.2"/>
<line x1="253.25" y1="634.79" x2="253.25" y2="640.03" stroke="#111" stroke-width="1.2" />
<line x1="247.55" y1="634.79" x2="258.95" y2="634.79" stroke="#111" stroke-width="1.2" />
<rect x="242.00" y="640.63" width="22.50" height="49.62" fill="#9b0000" stroke="#000" stroke-width="1.2"/>
<line x1="192.28" y1="690.25" x2="277.40" y2="690.25" stroke="#1a1a1a" stroke-width="1.25" />
<line x1="216.80" y1="690.25" x2="216.80" y2="693.25" stroke="#1a1a1a" stroke-width="1.25" />
<text x="216.20" y="704.45" font-size="10.6" font-weight="normal" font-style="normal" text-anchor="middle" stroke="#000" stroke-width="0.5">Ct</text>
<line x1="253.25" y1="690.25" x2="253.25" y2="693.25" stroke="#1a1a1a" stroke-width="1.25" />
<text x="253.25" y="704.45" font-size="10.5" font-weight="bold" font-style="italic" text-anchor="middle" >Iam</text>
<text x="237.10" y="590.10" font-size="14.3" font-weight="bold" font-style="normal" text-anchor="middle" stroke="#000" stroke-width="0.3">PPO3</text>
<text transform="translate(171.40,639.27) rotate(-90)" font-size="11.25" font-weight="normal" text-anchor="middle" stroke="#000" stroke-width="0.28">Relative expression</text>
<line x1="303.60" y1="589.98" x2="303.60" y2="690.88" stroke="#1a1a1a" stroke-width="1.25" />
<line x1="300.80" y1="690.25" x2="303.60" y2="690.25" stroke="#1a1a1a" stroke-width="1.25" />
<text transform="translate(300.10,693.79) rotate(0.03) scale(0.97,1.0)" font-size="9.6" font-weight="bold" font-style="normal" text-anchor="end" stroke="#000" stroke-width="0.22">0.0</text>
<line x1="300.80" y1="665.34" x2="303.60" y2="665.34" stroke="#1a1a1a" stroke-width="1.25" />
<text transform="translate(300.10,668.87) rotate(0.03) scale(0.97,1.0)" font-size="9.6" font-weight="bold" font-style="normal" text-anchor="end" stroke="#000" stroke-width="0.22">0.5</text>
<line x1="300.80" y1="640.42" x2="303.60" y2="640.42" stroke="#1a1a1a" stroke-width="1.25" />
<text transform="translate(300.10,643.96) rotate(0.03) scale(0.97,1.0)" font-size="9.6" font-weight="bold" font-style="normal" text-anchor="end" stroke="#000" stroke-width="0.22">1.0</text>
<line x1="300.80" y1="615.51" x2="303.60" y2="615.51" stroke="#1a1a1a" stroke-width="1.25" />
<text transform="translate(300.10,619.05) rotate(0.03) scale(0.97,1.0)" font-size="9.6" font-weight="bold" font-style="normal" text-anchor="end" stroke="#000" stroke-width="0.22">1.5</text>
<line x1="300.80" y1="590.60" x2="303.60" y2="590.60" stroke="#1a1a1a" stroke-width="1.25" />
<text transform="translate(300.10,594.14) rotate(0.03) scale(0.97,1.0)" font-size="9.6" font-weight="bold" font-style="normal" text-anchor="end" stroke="#000" stroke-width="0.22">2.0</text>
<line x1="305.20" y1="641.38" x2="389.30" y2="641.38" stroke="#000" stroke-width="1.45" stroke-linecap="round" stroke-dasharray="0.01 3.84"/>
<line x1="328.15" y1="634.79" x2="328.15" y2="638.93" stroke="#111" stroke-width="1.2" />
<line x1="322.45" y1="634.79" x2="333.85" y2="634.79" stroke="#111" stroke-width="1.2" />
<rect x="316.80" y="639.53" width="22.70" height="50.72" fill="#000" stroke="#000" stroke-width="1.2"/>
<line x1="364.20" y1="642.77" x2="364.20" y2="649.39" stroke="#111" stroke-width="1.2" />
<line x1="358.50" y1="642.77" x2="369.90" y2="642.77" stroke="#111" stroke-width="1.2" />
<rect x="353.00" y="649.99" width="22.40" height="40.26" fill="#9b0000" stroke="#000" stroke-width="1.2"/>
<line x1="302.98" y1="690.25" x2="388.80" y2="690.25" stroke="#1a1a1a" stroke-width="1.25" />
<line x1="328.15" y1="690.25" x2="328.15" y2="693.25" stroke="#1a1a1a" stroke-width="1.25" />
<text x="327.55" y="704.45" font-size="10.6" font-weight="normal" font-style="normal" text-anchor="middle" stroke="#000" stroke-width="0.5">Ct</text>
<line x1="364.20" y1="690.25" x2="364.20" y2="693.25" stroke="#1a1a1a" stroke-width="1.25" />
<text x="364.20" y="704.45" font-size="10.5" font-weight="bold" font-style="italic" text-anchor="middle" >Iam</text>
<text x="347.80" y="590.10" font-size="14.3" font-weight="bold" font-style="normal" text-anchor="middle" stroke="#000" stroke-width="0.3">PPO5</text>
<text x="408.50" y="589.50" font-size="22" font-weight="bold" font-style="normal" text-anchor="start" >j</text>
<line x1="454.50" y1="588.27" x2="454.50" y2="690.48" stroke="#1a1a1a" stroke-width="1.25" />
<line x1="451.70" y1="689.85" x2="454.50" y2="689.85" stroke="#1a1a1a" stroke-width="1.25" />
<text transform="translate(451.00,693.39) rotate(0.03) scale(0.97,1.0)" font-size="9.6" font-weight="bold" font-style="normal" text-anchor="end" stroke="#000" stroke-width="0.22">0.0</text>
<line x1="451.70" y1="669.66" x2="454.50" y2="669.66" stroke="#1a1a1a" stroke-width="1.25" />
<text transform="translate(451.00,673.20) rotate(0.03) scale(0.97,1.0)" font-size="9.6" font-weight="bold" font-style="normal" text-anchor="end" stroke="#000" stroke-width="0.22">0.2</text>
<line x1="451.70" y1="649.47" x2="454.50" y2="649.47" stroke="#1a1a1a" stroke-width="1.25" />
<text transform="translate(451.00,653.01) rotate(0.03) scale(0.97,1.0)" font-size="9.6" font-weight="bold" font-style="normal" text-anchor="end" stroke="#000" stroke-width="0.22">0.4</text>
<line x1="451.70" y1="629.28" x2="454.50" y2="629.28" stroke="#1a1a1a" stroke-width="1.25" />
<text transform="translate(451.00,632.82) rotate(0.03) scale(0.97,1.0)" font-size="9.6" font-weight="bold" font-style="normal" text-anchor="end" stroke="#000" stroke-width="0.22">0.6</text>
<line x1="451.70" y1="609.09" x2="454.50" y2="609.09" stroke="#1a1a1a" stroke-width="1.25" />
<text transform="translate(451.00,612.63) rotate(0.03) scale(0.97,1.0)" font-size="9.6" font-weight="bold" font-style="normal" text-anchor="end" stroke="#000" stroke-width="0.22">0.8</text>
<line x1="451.70" y1="588.90" x2="454.50" y2="588.90" stroke="#1a1a1a" stroke-width="1.25" />
<text transform="translate(451.00,592.44) rotate(0.03) scale(0.97,1.0)" font-size="9.6" font-weight="bold" font-style="normal" text-anchor="end" stroke="#000" stroke-width="0.22">1.0</text>
<line x1="453.88" y1="689.85" x2="555.50" y2="689.85" stroke="#1a1a1a" stroke-width="1.25" />
<line x1="483.00" y1="689.85" x2="483.00" y2="692.85" stroke="#1a1a1a" stroke-width="1.25" />
<text x="482.40" y="704.05" font-size="10.6" font-weight="normal" font-style="normal" text-anchor="middle" stroke="#000" stroke-width="0.5">Ct</text>
<line x1="526.10" y1="689.85" x2="526.10" y2="692.85" stroke="#1a1a1a" stroke-width="1.25" />
<text x="526.10" y="704.05" font-size="10.5" font-weight="bold" font-style="italic" text-anchor="middle" >Iam</text>
<text transform="translate(432.00,639.08) rotate(-90)" font-size="11.6" font-weight="normal" text-anchor="middle" stroke="#000" stroke-width="0.45">PO Activity (Vmax)</text>
<g fill="#000" fill-opacity="0.55">
<circle cx="483.25" cy="610.20" r="3.2"/>
<circle cx="492.40" cy="612.52" r="3.2"/>
<circle cx="474.25" cy="617.67" r="3.2"/>
<circle cx="483.25" cy="620.30" r="3.2"/>
<circle cx="474.25" cy="630.09" r="3.2"/>
<circle cx="492.40" cy="632.81" r="3.2"/>
<circle cx="483.25" cy="634.73" r="3.2"/>
<circle cx="478.90" cy="645.94" r="3.2"/>
<circle cx="487.40" cy="646.74" r="3.2"/>
<circle cx="475.75" cy="649.07" r="3.2"/>
<circle cx="490.75" cy="650.98" r="3.2"/>
<circle cx="480.75" cy="651.59" r="3.2"/>
<circle cx="485.75" cy="651.99" r="3.2"/>
<circle cx="472.40" cy="657.95" r="3.2"/>
<circle cx="494.00" cy="657.34" r="3.2"/>
<circle cx="474.90" cy="659.87" r="3.2"/>
<circle cx="491.10" cy="659.57" r="3.2"/>
<circle cx="477.40" cy="661.68" r="3.2"/>
<circle cx="488.60" cy="661.48" r="3.2"/>
<circle cx="479.90" cy="663.60" r="3.2"/>
<circle cx="486.10" cy="663.40" r="3.2"/>
<circle cx="482.40" cy="665.32" r="3.2"/>
<circle cx="478.00" cy="656.03" r="3.2"/>
<circle cx="483.20" cy="655.53" r="3.2"/>
<circle cx="488.00" cy="656.03" r="3.2"/>
<circle cx="483.10" cy="659.57" r="3.2"/>
<circle cx="473.25" cy="669.66" r="3.2"/>
<circle cx="493.25" cy="669.05" r="3.2"/>
<circle cx="488.25" cy="670.37" r="3.2"/>
<circle cx="478.25" cy="672.89" r="3.2"/>
<circle cx="483.25" cy="674.10" r="3.2"/>
<circle cx="483.25" cy="685.51" r="3.2"/>
</g>
<g fill="#00c800" fill-opacity="0.6">
<circle cx="526.10" cy="613.43" r="3.2"/>
<circle cx="526.10" cy="630.59" r="3.2"/>
<circle cx="516.30" cy="640.28" r="3.2"/>
<circle cx="521.10" cy="644.42" r="3.2"/>
<circle cx="526.10" cy="646.64" r="3.2"/>
<circle cx="531.10" cy="645.03" r="3.2"/>
<circle cx="536.10" cy="643.82" r="3.2"/>
<circle cx="521.30" cy="649.87" r="3.2"/>
<circle cx="517.30" cy="653.61" r="3.2"/>
<circle cx="530.70" cy="653.00" r="3.2"/>
<circle cx="535.10" cy="655.33" r="3.2"/>
<circle cx="523.20" cy="656.13" r="3.2"/>
<circle cx="527.90" cy="656.94" r="3.2"/>
<circle cx="532.00" cy="655.73" r="3.2"/>
<circle cx="515.70" cy="660.07" r="3.2"/>
<circle cx="519.50" cy="661.38" r="3.2"/>
<circle cx="527.90" cy="658.86" r="3.2"/>
<circle cx="537.00" cy="660.07" r="3.2"/>
<circle cx="533.00" cy="664.51" r="3.2"/>
<circle cx="522.00" cy="667.04" r="3.2"/>
<circle cx="525.10" cy="668.25" r="3.2"/>
<circle cx="528.90" cy="668.25" r="3.2"/>
<circle cx="518.20" cy="672.69" r="3.2"/>
<circle cx="531.10" cy="672.08" r="3.2"/>
<circle cx="533.90" cy="676.22" r="3.2"/>
<circle cx="523.60" cy="677.74" r="3.2"/>
<circle cx="528.60" cy="678.34" r="3.2"/>
<circle cx="530.70" cy="683.59" r="3.2"/>
<circle cx="521.60" cy="688.34" r="3.2"/>
</g>
<line x1="468.50" y1="657.75" x2="497.50" y2="657.75" stroke="#000" stroke-width="1.3" />
<line x1="511.60" y1="658.86" x2="540.60" y2="658.86" stroke="#000" stroke-width="1.3" />
<line x1="600.20" y1="589.52" x2="600.20" y2="690.88" stroke="#1a1a1a" stroke-width="1.25" />
<line x1="597.40" y1="690.26" x2="600.20" y2="690.26" stroke="#1a1a1a" stroke-width="1.25" />
<text transform="translate(596.70,693.80) rotate(0.03) scale(0.97,1.0)" font-size="9.6" font-weight="bold" font-style="normal" text-anchor="end" stroke="#000" stroke-width="0.22">0.0</text>
<line x1="597.40" y1="665.23" x2="600.20" y2="665.23" stroke="#1a1a1a" stroke-width="1.25" />
<text transform="translate(596.70,668.77) rotate(0.03) scale(0.97,1.0)" font-size="9.6" font-weight="bold" font-style="normal" text-anchor="end" stroke="#000" stroke-width="0.22">0.5</text>
<line x1="597.40" y1="640.20" x2="600.20" y2="640.20" stroke="#1a1a1a" stroke-width="1.25" />
<text transform="translate(596.70,643.74) rotate(0.03) scale(0.97,1.0)" font-size="9.6" font-weight="bold" font-style="normal" text-anchor="end" stroke="#000" stroke-width="0.22">1.0</text>
<line x1="597.40" y1="615.18" x2="600.20" y2="615.18" stroke="#1a1a1a" stroke-width="1.25" />
<text transform="translate(596.70,618.71) rotate(0.03) scale(0.97,1.0)" font-size="9.6" font-weight="bold" font-style="normal" text-anchor="end" stroke="#000" stroke-width="0.22">1.5</text>
<line x1="597.40" y1="590.15" x2="600.20" y2="590.15" stroke="#1a1a1a" stroke-width="1.25" />
<text transform="translate(596.70,593.69) rotate(0.03) scale(0.97,1.0)" font-size="9.6" font-weight="bold" font-style="normal" text-anchor="end" stroke="#000" stroke-width="0.22">2.0</text>
<line x1="601.00" y1="640.65" x2="684.50" y2="640.65" stroke="#000" stroke-width="1.15" stroke-dasharray="2.4 1.9"/>
<line x1="623.65" y1="631.95" x2="623.65" y2="638.30" stroke="#111" stroke-width="1.2" />
<line x1="617.95" y1="631.95" x2="629.35" y2="631.95" stroke="#111" stroke-width="1.2" />
<rect x="612.40" y="638.90" width="22.50" height="51.36" fill="#000" stroke="#000" stroke-width="1.2"/>
<line x1="659.80" y1="649.82" x2="659.80" y2="653.97" stroke="#111" stroke-width="1.2" />
<line x1="654.10" y1="649.82" x2="665.50" y2="649.82" stroke="#111" stroke-width="1.2" />
<rect x="648.90" y="654.57" width="21.80" height="35.69" fill="#9b0000" stroke="#000" stroke-width="1.2"/>
<line x1="599.58" y1="690.26" x2="684.00" y2="690.26" stroke="#1a1a1a" stroke-width="1.25" />
<line x1="623.65" y1="690.26" x2="623.65" y2="693.26" stroke="#1a1a1a" stroke-width="1.25" />
<text x="623.05" y="704.46" font-size="10.6" font-weight="normal" font-style="normal" text-anchor="middle" stroke="#000" stroke-width="0.5">Ct</text>
<line x1="659.80" y1="690.26" x2="659.80" y2="693.26" stroke="#1a1a1a" stroke-width="1.25" />
<text x="659.80" y="704.46" font-size="10.5" font-weight="bold" font-style="italic" text-anchor="middle" >Iam</text>
<text x="642.50" y="589.65" font-size="14.3" font-weight="bold" font-style="normal" text-anchor="middle" stroke="#000" stroke-width="0.3">PPO3</text>
<text transform="translate(578.00,639.05) rotate(-90)" font-size="11.25" font-weight="normal" text-anchor="middle" stroke="#000" stroke-width="0.45">Relative expression</text>
<text x="660.00" y="637.94" font-size="19" font-weight="bold" font-style="normal" text-anchor="middle" >*</text>
<line x1="711.00" y1="589.52" x2="711.00" y2="690.88" stroke="#1a1a1a" stroke-width="1.25" />
<line x1="708.20" y1="690.26" x2="711.00" y2="690.26" stroke="#1a1a1a" stroke-width="1.25" />
<text transform="translate(707.50,693.80) rotate(0.03) scale(0.97,1.0)" font-size="9.6" font-weight="bold" font-style="normal" text-anchor="end" stroke="#000" stroke-width="0.22">0.0</text>
<line x1="708.20" y1="665.23" x2="711.00" y2="665.23" stroke="#1a1a1a" stroke-width="1.25" />
<text transform="translate(707.50,668.77) rotate(0.03) scale(0.97,1.0)" font-size="9.6" font-weight="bold" font-style="normal" text-anchor="end" stroke="#000" stroke-width="0.22">0.5</text>
<line x1="708.20" y1="640.20" x2="711.00" y2="640.20" stroke="#1a1a1a" stroke-width="1.25" />
<text transform="translate(707.50,643.74) rotate(0.03) scale(0.97,1.0)" font-size="9.6" font-weight="bold" font-style="normal" text-anchor="end" stroke="#000" stroke-width="0.22">1.0</text>
<line x1="708.20" y1="615.18" x2="711.00" y2="615.18" stroke="#1a1a1a" stroke-width="1.25" />
<text transform="translate(707.50,618.71) rotate(0.03) scale(0.97,1.0)" font-size="9.6" font-weight="bold" font-style="normal" text-anchor="end" stroke="#000" stroke-width="0.22">1.5</text>
<line x1="708.20" y1="590.15" x2="711.00" y2="590.15" stroke="#1a1a1a" stroke-width="1.25" />
<text transform="translate(707.50,593.69) rotate(0.03) scale(0.97,1.0)" font-size="9.6" font-weight="bold" font-style="normal" text-anchor="end" stroke="#000" stroke-width="0.22">2.0</text>
<line x1="711.80" y1="640.65" x2="797.00" y2="640.65" stroke="#000" stroke-width="1.15" stroke-dasharray="2.4 1.9"/>
<line x1="735.45" y1="635.25" x2="735.45" y2="639.10" stroke="#111" stroke-width="1.2" />
<line x1="729.75" y1="635.25" x2="741.15" y2="635.25" stroke="#111" stroke-width="1.2" />
<rect x="723.80" y="639.70" width="23.30" height="50.56" fill="#000" stroke="#000" stroke-width="1.2"/>
<line x1="772.00" y1="629.74" x2="772.00" y2="637.75" stroke="#111" stroke-width="1.2" />
<line x1="766.30" y1="629.74" x2="777.70" y2="629.74" stroke="#111" stroke-width="1.2" />
<rect x="760.80" y="638.35" width="22.40" height="51.91" fill="#9b0000" stroke="#000" stroke-width="1.2"/>
<line x1="710.38" y1="690.26" x2="796.50" y2="690.26" stroke="#1a1a1a" stroke-width="1.25" />
<line x1="735.45" y1="690.26" x2="735.45" y2="693.26" stroke="#1a1a1a" stroke-width="1.25" />
<text x="734.85" y="704.46" font-size="10.6" font-weight="normal" font-style="normal" text-anchor="middle" stroke="#000" stroke-width="0.5">Ct</text>
<line x1="772.00" y1="690.26" x2="772.00" y2="693.26" stroke="#1a1a1a" stroke-width="1.25" />
<text x="772.00" y="704.46" font-size="10.5" font-weight="bold" font-style="italic" text-anchor="middle" >Iam</text>
<text x="752.30" y="589.65" font-size="14.3" font-weight="bold" font-style="normal" text-anchor="middle" stroke="#000" stroke-width="0.3">PPO5</text>
<text x="2.00" y="728.95" font-size="22" font-weight="bold" font-style="normal" text-anchor="start" >k</text>
<line x1="51.25" y1="727.73" x2="51.25" y2="827.62" stroke="#1a1a1a" stroke-width="1.25" />
<line x1="48.45" y1="827.00" x2="51.25" y2="827.00" stroke="#1a1a1a" stroke-width="1.25" />
<text transform="translate(47.75,830.54) rotate(0.03) scale(0.97,1.0)" font-size="9.6" font-weight="bold" font-style="normal" text-anchor="end" stroke="#000" stroke-width="0.22">0.0</text>
<line x1="48.45" y1="802.34" x2="51.25" y2="802.34" stroke="#1a1a1a" stroke-width="1.25" />
<text transform="translate(47.75,805.87) rotate(0.03) scale(0.97,1.0)" font-size="9.6" font-weight="bold" font-style="normal" text-anchor="end" stroke="#000" stroke-width="0.22">0.5</text>
<line x1="48.45" y1="777.67" x2="51.25" y2="777.67" stroke="#1a1a1a" stroke-width="1.25" />
<text transform="translate(47.75,781.21) rotate(0.03) scale(0.97,1.0)" font-size="9.6" font-weight="bold" font-style="normal" text-anchor="end" stroke="#000" stroke-width="0.22">1.0</text>
<line x1="48.45" y1="753.01" x2="51.25" y2="753.01" stroke="#1a1a1a" stroke-width="1.25" />
<text transform="translate(47.75,756.55) rotate(0.03) scale(0.97,1.0)" font-size="9.6" font-weight="bold" font-style="normal" text-anchor="end" stroke="#000" stroke-width="0.22">1.5</text>
<line x1="48.45" y1="728.35" x2="51.25" y2="728.35" stroke="#1a1a1a" stroke-width="1.25" />
<text transform="translate(47.75,731.89) rotate(0.03) scale(0.97,1.0)" font-size="9.6" font-weight="bold" font-style="normal" text-anchor="end" stroke="#000" stroke-width="0.22">2.0</text>
<line x1="50.62" y1="827.00" x2="151.00" y2="827.00" stroke="#1a1a1a" stroke-width="1.25" />
<line x1="80.00" y1="827.00" x2="80.00" y2="830.00" stroke="#1a1a1a" stroke-width="1.25" />
<text x="79.40" y="841.20" font-size="10.6" font-weight="normal" font-style="normal" text-anchor="middle" stroke="#000" stroke-width="0.5">Ct</text>
<line x1="122.50" y1="827.00" x2="122.50" y2="830.00" stroke="#1a1a1a" stroke-width="1.25" />
<text x="122.50" y="841.20" font-size="10.5" font-weight="bold" font-style="italic" text-anchor="middle" >Ic</text>
<text transform="translate(27.80,777.38) rotate(-90)" font-size="11.6" font-weight="normal" text-anchor="middle" stroke="#000" stroke-width="0.28">PO Activity (Vmax)</text>
<g fill="#000" fill-opacity="0.55">
<circle cx="80.20" cy="746.30" r="3.2"/>
<circle cx="85.00" cy="758.29" r="3.2"/>
<circle cx="75.70" cy="763.17" r="3.2"/>
<circle cx="70.50" cy="779.80" r="3.2"/>
<circle cx="75.20" cy="784.28" r="3.2"/>
<circle cx="80.20" cy="784.58" r="3.2"/>
<circle cx="85.20" cy="782.26" r="3.2"/>
<circle cx="90.20" cy="778.76" r="3.2"/>
<circle cx="80.00" cy="799.03" r="3.2"/>
<circle cx="77.94" cy="797.38" r="3.2"/>
<circle cx="82.18" cy="797.38" r="3.2"/>
<circle cx="75.88" cy="795.72" r="3.2"/>
<circle cx="84.36" cy="795.72" r="3.2"/>
<circle cx="73.82" cy="794.06" r="3.2"/>
<circle cx="86.54" cy="794.06" r="3.2"/>
<circle cx="71.76" cy="792.40" r="3.2"/>
<circle cx="88.72" cy="792.40" r="3.2"/>
<circle cx="69.70" cy="790.75" r="3.2"/>
<circle cx="90.90" cy="790.75" r="3.2"/>
<circle cx="72.00" cy="799.72" r="3.2"/>
<circle cx="88.60" cy="799.72" r="3.2"/>
<circle cx="74.40" cy="801.35" r="3.2"/>
<circle cx="85.90" cy="801.35" r="3.2"/>
<circle cx="76.70" cy="802.88" r="3.2"/>
<circle cx="83.50" cy="802.88" r="3.2"/>
<circle cx="80.00" cy="807.86" r="3.2"/>
<circle cx="78.44" cy="807.34" r="3.2"/>
<circle cx="81.60" cy="807.34" r="3.2"/>
<circle cx="76.89" cy="806.82" r="3.2"/>
<circle cx="83.20" cy="806.82" r="3.2"/>
<circle cx="75.33" cy="806.30" r="3.2"/>
<circle cx="84.80" cy="806.30" r="3.2"/>
<circle cx="73.77" cy="805.78" r="3.2"/>
<circle cx="86.40" cy="805.78" r="3.2"/>
<circle cx="72.21" cy="805.25" r="3.2"/>
<circle cx="88.00" cy="805.25" r="3.2"/>
<circle cx="70.66" cy="804.73" r="3.2"/>
<circle cx="89.60" cy="804.73" r="3.2"/>
<circle cx="69.10" cy="804.21" r="3.2"/>
<circle cx="91.20" cy="804.21" r="3.2"/>
<circle cx="80.00" cy="818.37" r="3.2"/>
<circle cx="78.54" cy="817.24" r="3.2"/>
<circle cx="81.46" cy="817.24" r="3.2"/>
<circle cx="77.09" cy="816.11" r="3.2"/>
<circle cx="82.91" cy="816.11" r="3.2"/>
<circle cx="75.63" cy="814.99" r="3.2"/>
<circle cx="84.37" cy="814.99" r="3.2"/>
<circle cx="74.17" cy="813.86" r="3.2"/>
<circle cx="85.83" cy="813.86" r="3.2"/>
<circle cx="72.71" cy="812.73" r="3.2"/>
<circle cx="87.29" cy="812.73" r="3.2"/>
<circle cx="71.26" cy="811.60" r="3.2"/>
<circle cx="88.74" cy="811.60" r="3.2"/>
<circle cx="69.80" cy="810.48" r="3.2"/>
<circle cx="90.20" cy="810.48" r="3.2"/>
</g>
<g fill="#1414ff" fill-opacity="0.55">
<circle cx="122.50" cy="783.59" r="3.2"/>
<circle cx="122.50" cy="805.79" r="3.2"/>
<circle cx="120.83" cy="804.51" r="3.2"/>
<circle cx="124.17" cy="804.51" r="3.2"/>
<circle cx="119.17" cy="803.23" r="3.2"/>
<circle cx="125.83" cy="803.23" r="3.2"/>
<circle cx="117.50" cy="801.94" r="3.2"/>
<circle cx="127.50" cy="801.94" r="3.2"/>
<circle cx="115.83" cy="800.66" r="3.2"/>
<circle cx="129.17" cy="800.66" r="3.2"/>
<circle cx="114.17" cy="799.38" r="3.2"/>
<circle cx="130.83" cy="799.38" r="3.2"/>
<circle cx="112.50" cy="798.10" r="3.2"/>
<circle cx="132.50" cy="798.10" r="3.2"/>
<circle cx="119.00" cy="806.94" r="3.2"/>
<circle cx="126.00" cy="806.94" r="3.2"/>
<circle cx="117.25" cy="805.79" r="3.2"/>
<circle cx="127.75" cy="805.79" r="3.2"/>
<circle cx="115.50" cy="804.64" r="3.2"/>
<circle cx="129.50" cy="804.64" r="3.2"/>
<circle cx="113.75" cy="803.49" r="3.2"/>
<circle cx="131.25" cy="803.49" r="3.2"/>
<circle cx="112.00" cy="802.34" r="3.2"/>
<circle cx="133.00" cy="802.34" r="3.2"/>
<circle cx="122.50" cy="812.94" r="3.2"/>
<circle cx="120.92" cy="812.29" r="3.2"/>
<circle cx="124.08" cy="812.29" r="3.2"/>
<circle cx="119.35" cy="811.65" r="3.2"/>
<circle cx="125.65" cy="811.65" r="3.2"/>
<circle cx="117.78" cy="811.00" r="3.2"/>
<circle cx="127.22" cy="811.00" r="3.2"/>
<circle cx="116.20" cy="810.35" r="3.2"/>
<circle cx="128.80" cy="810.35" r="3.2"/>
<circle cx="114.62" cy="809.71" r="3.2"/>
<circle cx="130.38" cy="809.71" r="3.2"/>
<circle cx="113.05" cy="809.06" r="3.2"/>
<circle cx="131.95" cy="809.06" r="3.2"/>
<circle cx="111.47" cy="808.41" r="3.2"/>
<circle cx="133.53" cy="808.41" r="3.2"/>
<circle cx="109.90" cy="807.76" r="3.2"/>
<circle cx="135.10" cy="807.76" r="3.2"/>
<circle cx="118.70" cy="817.83" r="3.2"/>
<circle cx="126.30" cy="817.83" r="3.2"/>
<circle cx="116.80" cy="816.44" r="3.2"/>
<circle cx="128.20" cy="816.44" r="3.2"/>
<circle cx="114.90" cy="815.06" r="3.2"/>
<circle cx="130.10" cy="815.06" r="3.2"/>
<circle cx="113.00" cy="813.68" r="3.2"/>
<circle cx="132.00" cy="813.68" r="3.2"/>
<circle cx="122.50" cy="823.89" r="3.2"/>
<circle cx="120.77" cy="822.56" r="3.2"/>
<circle cx="124.23" cy="822.56" r="3.2"/>
<circle cx="119.03" cy="821.23" r="3.2"/>
<circle cx="125.97" cy="821.23" r="3.2"/>
<circle cx="117.30" cy="819.90" r="3.2"/>
<circle cx="127.70" cy="819.90" r="3.2"/>
<circle cx="115.57" cy="818.57" r="3.2"/>
<circle cx="129.43" cy="818.57" r="3.2"/>
<circle cx="113.83" cy="817.23" r="3.2"/>
<circle cx="131.17" cy="817.23" r="3.2"/>
<circle cx="112.10" cy="815.90" r="3.2"/>
<circle cx="132.90" cy="815.90" r="3.2"/>
</g>
<line x1="65.50" y1="805.05" x2="94.50" y2="805.05" stroke="#000" stroke-width="1.3" />
<line x1="108.00" y1="810.23" x2="137.00" y2="810.23" stroke="#000" stroke-width="1.3" />
<text x="121.90" y="771.14" font-size="19" font-weight="bold" font-style="normal" text-anchor="middle" letter-spacing="0">***</text>
<line x1="193.70" y1="725.98" x2="193.70" y2="827.38" stroke="#1a1a1a" stroke-width="1.25" />
<line x1="190.90" y1="826.75" x2="193.70" y2="826.75" stroke="#1a1a1a" stroke-width="1.25" />
<text transform="translate(190.20,830.29) rotate(0.03) scale(0.97,1.0)" font-size="9.6" font-weight="bold" font-style="normal" text-anchor="end" stroke="#000" stroke-width="0.22">0.0</text>
<line x1="190.90" y1="801.71" x2="193.70" y2="801.71" stroke="#1a1a1a" stroke-width="1.25" />
<text transform="translate(190.20,805.25) rotate(0.03) scale(0.97,1.0)" font-size="9.6" font-weight="bold" font-style="normal" text-anchor="end" stroke="#000" stroke-width="0.22">0.5</text>
<line x1="190.90" y1="776.67" x2="193.70" y2="776.67" stroke="#1a1a1a" stroke-width="1.25" />
<text transform="translate(190.20,780.21) rotate(0.03) scale(0.97,1.0)" font-size="9.6" font-weight="bold" font-style="normal" text-anchor="end" stroke="#000" stroke-width="0.22">1.0</text>
<line x1="190.90" y1="751.64" x2="193.70" y2="751.64" stroke="#1a1a1a" stroke-width="1.25" />
<text transform="translate(190.20,755.17) rotate(0.03) scale(0.97,1.0)" font-size="9.6" font-weight="bold" font-style="normal" text-anchor="end" stroke="#000" stroke-width="0.22">1.5</text>
<line x1="190.90" y1="726.60" x2="193.70" y2="726.60" stroke="#1a1a1a" stroke-width="1.25" />
<text transform="translate(190.20,730.14) rotate(0.03) scale(0.97,1.0)" font-size="9.6" font-weight="bold" font-style="normal" text-anchor="end" stroke="#000" stroke-width="0.22">2.0</text>
<line x1="195.30" y1="777.62" x2="278.70" y2="777.62" stroke="#000" stroke-width="1.45" stroke-linecap="round" stroke-dasharray="0.01 3.84"/>
<line x1="217.60" y1="769.16" x2="217.60" y2="774.32" stroke="#111" stroke-width="1.2" />
<line x1="211.90" y1="769.16" x2="223.30" y2="769.16" stroke="#111" stroke-width="1.2" />
<rect x="206.30" y="774.92" width="22.60" height="51.83" fill="#000" stroke="#000" stroke-width="1.2"/>
<line x1="254.05" y1="762.00" x2="254.05" y2="770.77" stroke="#111" stroke-width="1.2" />
<line x1="248.35" y1="762.00" x2="259.75" y2="762.00" stroke="#111" stroke-width="1.2" />
<rect x="242.80" y="771.37" width="22.50" height="55.38" fill="#9b0000" stroke="#000" stroke-width="1.2"/>
<line x1="193.08" y1="826.75" x2="278.20" y2="826.75" stroke="#1a1a1a" stroke-width="1.25" />
<line x1="217.60" y1="826.75" x2="217.60" y2="829.75" stroke="#1a1a1a" stroke-width="1.25" />
<text x="217.00" y="840.95" font-size="10.6" font-weight="normal" font-style="normal" text-anchor="middle" stroke="#000" stroke-width="0.5">Ct</text>
<line x1="254.05" y1="826.75" x2="254.05" y2="829.75" stroke="#1a1a1a" stroke-width="1.25" />
<text x="254.05" y="840.95" font-size="10.5" font-weight="bold" font-style="italic" text-anchor="middle" >Ic</text>
<text x="237.90" y="726.10" font-size="14.3" font-weight="bold" font-style="normal" text-anchor="middle" stroke="#000" stroke-width="0.3">PPO3</text>
<text transform="translate(171.40,775.52) rotate(-90)" font-size="11.25" font-weight="normal" text-anchor="middle" stroke="#000" stroke-width="0.28">Relative expression</text>
<line x1="303.60" y1="725.98" x2="303.60" y2="827.38" stroke="#1a1a1a" stroke-width="1.25" />
<line x1="300.80" y1="826.75" x2="303.60" y2="826.75" stroke="#1a1a1a" stroke-width="1.25" />
<text transform="translate(300.10,830.29) rotate(0.03) scale(0.97,1.0)" font-size="9.6" font-weight="bold" font-style="normal" text-anchor="end" stroke="#000" stroke-width="0.22">0.0</text>
<line x1="300.80" y1="801.71" x2="303.60" y2="801.71" stroke="#1a1a1a" stroke-width="1.25" />
<text transform="translate(300.10,805.25) rotate(0.03) scale(0.97,1.0)" font-size="9.6" font-weight="bold" font-style="normal" text-anchor="end" stroke="#000" stroke-width="0.22">0.5</text>
<line x1="300.80" y1="776.67" x2="303.60" y2="776.67" stroke="#1a1a1a" stroke-width="1.25" />
<text transform="translate(300.10,780.21) rotate(0.03) scale(0.97,1.0)" font-size="9.6" font-weight="bold" font-style="normal" text-anchor="end" stroke="#000" stroke-width="0.22">1.0</text>
<line x1="300.80" y1="751.64" x2="303.60" y2="751.64" stroke="#1a1a1a" stroke-width="1.25" />
<text transform="translate(300.10,755.17) rotate(0.03) scale(0.97,1.0)" font-size="9.6" font-weight="bold" font-style="normal" text-anchor="end" stroke="#000" stroke-width="0.22">1.5</text>
<line x1="300.80" y1="726.60" x2="303.60" y2="726.60" stroke="#1a1a1a" stroke-width="1.25" />
<text transform="translate(300.10,730.14) rotate(0.03) scale(0.97,1.0)" font-size="9.6" font-weight="bold" font-style="normal" text-anchor="end" stroke="#000" stroke-width="0.22">2.0</text>
<line x1="305.20" y1="777.62" x2="389.30" y2="777.62" stroke="#000" stroke-width="1.45" stroke-linecap="round" stroke-dasharray="0.01 3.84"/>
<line x1="328.15" y1="771.07" x2="328.15" y2="775.17" stroke="#111" stroke-width="1.2" />
<line x1="322.45" y1="771.07" x2="333.85" y2="771.07" stroke="#111" stroke-width="1.2" />
<rect x="316.80" y="775.77" width="22.70" height="50.98" fill="#000" stroke="#000" stroke-width="1.2"/>
<line x1="364.20" y1="777.93" x2="364.20" y2="784.24" stroke="#111" stroke-width="1.2" />
<line x1="358.50" y1="777.93" x2="369.90" y2="777.93" stroke="#111" stroke-width="1.2" />
<rect x="353.00" y="784.84" width="22.40" height="41.91" fill="#9b0000" stroke="#000" stroke-width="1.2"/>
<line x1="302.98" y1="826.75" x2="388.80" y2="826.75" stroke="#1a1a1a" stroke-width="1.25" />
<line x1="328.15" y1="826.75" x2="328.15" y2="829.75" stroke="#1a1a1a" stroke-width="1.25" />
<text x="327.55" y="840.95" font-size="10.6" font-weight="normal" font-style="normal" text-anchor="middle" stroke="#000" stroke-width="0.5">Ct</text>
<line x1="364.20" y1="826.75" x2="364.20" y2="829.75" stroke="#1a1a1a" stroke-width="1.25" />
<text x="364.20" y="840.95" font-size="10.5" font-weight="bold" font-style="italic" text-anchor="middle" >Ic</text>
<text x="347.80" y="726.10" font-size="14.3" font-weight="bold" font-style="normal" text-anchor="middle" stroke="#000" stroke-width="0.3">PPO5</text>
<text x="408.50" y="728.10" font-size="22" font-weight="bold" font-style="normal" text-anchor="start" >l</text>
<line x1="454.50" y1="726.88" x2="454.50" y2="827.27" stroke="#1a1a1a" stroke-width="1.25" />
<line x1="451.70" y1="826.65" x2="454.50" y2="826.65" stroke="#1a1a1a" stroke-width="1.25" />
<text transform="translate(451.00,830.19) rotate(0.03) scale(0.97,1.0)" font-size="9.6" font-weight="bold" font-style="normal" text-anchor="end" stroke="#000" stroke-width="0.22">0.0</text>
<line x1="451.70" y1="806.82" x2="454.50" y2="806.82" stroke="#1a1a1a" stroke-width="1.25" />
<text transform="translate(451.00,810.36) rotate(0.03) scale(0.97,1.0)" font-size="9.6" font-weight="bold" font-style="normal" text-anchor="end" stroke="#000" stroke-width="0.22">0.2</text>
<line x1="451.70" y1="786.99" x2="454.50" y2="786.99" stroke="#1a1a1a" stroke-width="1.25" />
<text transform="translate(451.00,790.53) rotate(0.03) scale(0.97,1.0)" font-size="9.6" font-weight="bold" font-style="normal" text-anchor="end" stroke="#000" stroke-width="0.22">0.4</text>
<line x1="451.70" y1="767.16" x2="454.50" y2="767.16" stroke="#1a1a1a" stroke-width="1.25" />
<text transform="translate(451.00,770.70) rotate(0.03) scale(0.97,1.0)" font-size="9.6" font-weight="bold" font-style="normal" text-anchor="end" stroke="#000" stroke-width="0.22">0.6</text>
<line x1="451.70" y1="747.33" x2="454.50" y2="747.33" stroke="#1a1a1a" stroke-width="1.25" />
<text transform="translate(451.00,750.87) rotate(0.03) scale(0.97,1.0)" font-size="9.6" font-weight="bold" font-style="normal" text-anchor="end" stroke="#000" stroke-width="0.22">0.8</text>
<line x1="451.70" y1="727.50" x2="454.50" y2="727.50" stroke="#1a1a1a" stroke-width="1.25" />
<text transform="translate(451.00,731.04) rotate(0.03) scale(0.97,1.0)" font-size="9.6" font-weight="bold" font-style="normal" text-anchor="end" stroke="#000" stroke-width="0.22">1.0</text>
<line x1="453.88" y1="826.65" x2="555.50" y2="826.65" stroke="#1a1a1a" stroke-width="1.25" />
<line x1="483.00" y1="826.65" x2="483.00" y2="829.65" stroke="#1a1a1a" stroke-width="1.25" />
<text x="482.40" y="840.85" font-size="10.6" font-weight="normal" font-style="normal" text-anchor="middle" stroke="#000" stroke-width="0.5">Ct</text>
<line x1="526.00" y1="826.65" x2="526.00" y2="829.65" stroke="#1a1a1a" stroke-width="1.25" />
<text x="526.00" y="840.85" font-size="10.5" font-weight="bold" font-style="italic" text-anchor="middle" >Ic</text>
<text transform="translate(432.00,776.78) rotate(-90)" font-size="11.6" font-weight="normal" text-anchor="middle" stroke="#000" stroke-width="0.45">PO Activity (Vmax)</text>
<g fill="#000" fill-opacity="0.55">
<circle cx="483.25" cy="748.42" r="3.2"/>
<circle cx="492.40" cy="750.70" r="3.2"/>
<circle cx="474.25" cy="755.76" r="3.2"/>
<circle cx="483.25" cy="758.34" r="3.2"/>
<circle cx="474.25" cy="767.95" r="3.2"/>
<circle cx="492.40" cy="770.63" r="3.2"/>
<circle cx="483.25" cy="772.51" r="3.2"/>
<circle cx="478.90" cy="783.52" r="3.2"/>
<circle cx="487.40" cy="784.31" r="3.2"/>
<circle cx="475.75" cy="786.59" r="3.2"/>
<circle cx="490.75" cy="788.48" r="3.2"/>
<circle cx="480.75" cy="789.07" r="3.2"/>
<circle cx="485.75" cy="789.47" r="3.2"/>
<circle cx="472.40" cy="795.32" r="3.2"/>
<circle cx="494.00" cy="794.72" r="3.2"/>
<circle cx="474.90" cy="797.20" r="3.2"/>
<circle cx="491.10" cy="796.90" r="3.2"/>
<circle cx="477.40" cy="798.99" r="3.2"/>
<circle cx="488.60" cy="798.79" r="3.2"/>
<circle cx="479.90" cy="800.87" r="3.2"/>
<circle cx="486.10" cy="800.67" r="3.2"/>
<circle cx="482.40" cy="802.56" r="3.2"/>
<circle cx="478.00" cy="793.43" r="3.2"/>
<circle cx="483.20" cy="792.94" r="3.2"/>
<circle cx="488.00" cy="793.43" r="3.2"/>
<circle cx="483.10" cy="796.90" r="3.2"/>
<circle cx="473.25" cy="806.82" r="3.2"/>
<circle cx="493.25" cy="806.23" r="3.2"/>
<circle cx="488.25" cy="807.51" r="3.2"/>
<circle cx="478.25" cy="809.99" r="3.2"/>
<circle cx="483.25" cy="811.18" r="3.2"/>
<circle cx="483.25" cy="822.39" r="3.2"/>
</g>
<g fill="#1414ff" fill-opacity="0.55">
<circle cx="526.00" cy="766.17" r="3.2"/>
<circle cx="521.40" cy="785.60" r="3.2"/>
<circle cx="530.50" cy="786.59" r="3.2"/>
<circle cx="516.60" cy="788.08" r="3.2"/>
<circle cx="535.40" cy="788.08" r="3.2"/>
<circle cx="523.20" cy="789.96" r="3.2"/>
<circle cx="527.90" cy="791.85" r="3.2"/>
<circle cx="532.60" cy="788.77" r="3.2"/>
<circle cx="515.70" cy="792.74" r="3.2"/>
<circle cx="536.40" cy="794.13" r="3.2"/>
<circle cx="519.50" cy="796.31" r="3.2"/>
<circle cx="533.30" cy="796.31" r="3.2"/>
<circle cx="523.20" cy="797.50" r="3.2"/>
<circle cx="529.50" cy="798.19" r="3.2"/>
<circle cx="526.00" cy="801.27" r="3.2"/>
<circle cx="518.60" cy="804.04" r="3.2"/>
<circle cx="532.60" cy="804.64" r="3.2"/>
<circle cx="522.00" cy="803.15" r="3.2"/>
<circle cx="523.60" cy="808.21" r="3.2"/>
<circle cx="528.90" cy="810.69" r="3.2"/>
<circle cx="521.40" cy="811.98" r="3.2"/>
<circle cx="516.60" cy="814.45" r="3.2"/>
<circle cx="535.80" cy="814.45" r="3.2"/>
<circle cx="532.00" cy="814.45" r="3.2"/>
<circle cx="520.10" cy="815.15" r="3.2"/>
<circle cx="527.90" cy="817.23" r="3.2"/>
<circle cx="524.10" cy="820.50" r="3.2"/>
</g>
<line x1="468.50" y1="795.12" x2="497.50" y2="795.12" stroke="#000" stroke-width="1.3" />
<line x1="511.50" y1="800.08" x2="540.50" y2="800.08" stroke="#000" stroke-width="1.3" />
<text x="524.90" y="759.74" font-size="19" font-weight="bold" font-style="normal" text-anchor="middle" letter-spacing="0">*</text>
<line x1="600.20" y1="725.33" x2="600.20" y2="827.83" stroke="#1a1a1a" stroke-width="1.25" />
<line x1="597.40" y1="827.20" x2="600.20" y2="827.20" stroke="#1a1a1a" stroke-width="1.25" />
<text transform="translate(596.70,830.74) rotate(0.03) scale(0.97,1.0)" font-size="9.6" font-weight="bold" font-style="normal" text-anchor="end" stroke="#000" stroke-width="0.22">0.0</text>
<line x1="597.40" y1="801.89" x2="600.20" y2="801.89" stroke="#1a1a1a" stroke-width="1.25" />
<text transform="translate(596.70,805.42) rotate(0.03) scale(0.97,1.0)" font-size="9.6" font-weight="bold" font-style="normal" text-anchor="end" stroke="#000" stroke-width="0.22">0.5</text>
<line x1="597.40" y1="776.58" x2="600.20" y2="776.58" stroke="#1a1a1a" stroke-width="1.25" />
<text transform="translate(596.70,780.11) rotate(0.03) scale(0.97,1.0)" font-size="9.6" font-weight="bold" font-style="normal" text-anchor="end" stroke="#000" stroke-width="0.22">1.0</text>
<line x1="597.40" y1="751.26" x2="600.20" y2="751.26" stroke="#1a1a1a" stroke-width="1.25" />
<text transform="translate(596.70,754.80) rotate(0.03) scale(0.97,1.0)" font-size="9.6" font-weight="bold" font-style="normal" text-anchor="end" stroke="#000" stroke-width="0.22">1.5</text>
<line x1="597.40" y1="725.95" x2="600.20" y2="725.95" stroke="#1a1a1a" stroke-width="1.25" />
<text transform="translate(596.70,729.49) rotate(0.03) scale(0.97,1.0)" font-size="9.6" font-weight="bold" font-style="normal" text-anchor="end" stroke="#000" stroke-width="0.22">2.0</text>
<line x1="601.00" y1="777.03" x2="684.50" y2="777.03" stroke="#000" stroke-width="1.15" stroke-dasharray="2.4 1.9"/>
<line x1="623.65" y1="768.32" x2="623.65" y2="774.40" stroke="#111" stroke-width="1.2" />
<line x1="617.95" y1="768.32" x2="629.35" y2="768.32" stroke="#111" stroke-width="1.2" />
<rect x="612.40" y="775.00" width="22.50" height="52.20" fill="#000" stroke="#000" stroke-width="1.2"/>
<line x1="659.80" y1="784.83" x2="659.80" y2="789.48" stroke="#111" stroke-width="1.2" />
<line x1="654.10" y1="784.83" x2="665.50" y2="784.83" stroke="#111" stroke-width="1.2" />
<rect x="648.90" y="790.08" width="21.80" height="37.12" fill="#9b0000" stroke="#000" stroke-width="1.2"/>
<line x1="599.58" y1="827.20" x2="684.00" y2="827.20" stroke="#1a1a1a" stroke-width="1.25" />
<line x1="623.65" y1="827.20" x2="623.65" y2="830.20" stroke="#1a1a1a" stroke-width="1.25" />
<text x="623.05" y="841.40" font-size="10.6" font-weight="normal" font-style="normal" text-anchor="middle" stroke="#000" stroke-width="0.5">Ct</text>
<line x1="659.80" y1="827.20" x2="659.80" y2="830.20" stroke="#1a1a1a" stroke-width="1.25" />
<text x="659.80" y="841.40" font-size="10.5" font-weight="bold" font-style="italic" text-anchor="middle" >Ic</text>
<text x="642.50" y="725.45" font-size="14.3" font-weight="bold" font-style="normal" text-anchor="middle" stroke="#000" stroke-width="0.3">PPO3</text>
<text transform="translate(578.00,775.43) rotate(-90)" font-size="11.25" font-weight="normal" text-anchor="middle" stroke="#000" stroke-width="0.45">Relative expression</text>
<line x1="711.00" y1="726.42" x2="711.00" y2="828.23" stroke="#1a1a1a" stroke-width="1.25" />
<line x1="708.20" y1="827.60" x2="711.00" y2="827.60" stroke="#1a1a1a" stroke-width="1.25" />
<text transform="translate(707.50,831.14) rotate(0.03) scale(0.97,1.0)" font-size="9.6" font-weight="bold" font-style="normal" text-anchor="end" stroke="#000" stroke-width="0.22">0.0</text>
<line x1="708.20" y1="802.46" x2="711.00" y2="802.46" stroke="#1a1a1a" stroke-width="1.25" />
<text transform="translate(707.50,806.00) rotate(0.03) scale(0.97,1.0)" font-size="9.6" font-weight="bold" font-style="normal" text-anchor="end" stroke="#000" stroke-width="0.22">0.5</text>
<line x1="708.20" y1="777.33" x2="711.00" y2="777.33" stroke="#1a1a1a" stroke-width="1.25" />
<text transform="translate(707.50,780.86) rotate(0.03) scale(0.97,1.0)" font-size="9.6" font-weight="bold" font-style="normal" text-anchor="end" stroke="#000" stroke-width="0.22">1.0</text>
<line x1="708.20" y1="752.19" x2="711.00" y2="752.19" stroke="#1a1a1a" stroke-width="1.25" />
<text transform="translate(707.50,755.72) rotate(0.03) scale(0.97,1.0)" font-size="9.6" font-weight="bold" font-style="normal" text-anchor="end" stroke="#000" stroke-width="0.22">1.5</text>
<line x1="708.20" y1="727.05" x2="711.00" y2="727.05" stroke="#1a1a1a" stroke-width="1.25" />
<text transform="translate(707.50,730.59) rotate(0.03) scale(0.97,1.0)" font-size="9.6" font-weight="bold" font-style="normal" text-anchor="end" stroke="#000" stroke-width="0.22">2.0</text>
<line x1="711.80" y1="777.78" x2="797.00" y2="777.78" stroke="#000" stroke-width="1.15" stroke-dasharray="2.4 1.9"/>
<line x1="735.45" y1="772.65" x2="735.45" y2="776.52" stroke="#111" stroke-width="1.2" />
<line x1="729.75" y1="772.65" x2="741.15" y2="772.65" stroke="#111" stroke-width="1.2" />
<rect x="723.80" y="777.12" width="23.30" height="50.48" fill="#000" stroke="#000" stroke-width="1.2"/>
<line x1="772.00" y1="758.62" x2="772.00" y2="770.74" stroke="#111" stroke-width="1.2" />
<line x1="766.30" y1="758.62" x2="777.70" y2="758.62" stroke="#111" stroke-width="1.2" />
<rect x="760.80" y="771.34" width="22.40" height="56.26" fill="#9b0000" stroke="#000" stroke-width="1.2"/>
<line x1="710.38" y1="827.60" x2="796.50" y2="827.60" stroke="#1a1a1a" stroke-width="1.25" />
<line x1="735.45" y1="827.60" x2="735.45" y2="830.60" stroke="#1a1a1a" stroke-width="1.25" />
<text x="734.85" y="841.80" font-size="10.6" font-weight="normal" font-style="normal" text-anchor="middle" stroke="#000" stroke-width="0.5">Ct</text>
<line x1="772.00" y1="827.60" x2="772.00" y2="830.60" stroke="#1a1a1a" stroke-width="1.25" />
<text x="772.00" y="841.80" font-size="10.5" font-weight="bold" font-style="italic" text-anchor="middle" >Ic</text>
<text x="752.30" y="726.55" font-size="14.3" font-weight="bold" font-style="normal" text-anchor="middle" stroke="#000" stroke-width="0.3">PPO5</text>
</svg></body></html>
